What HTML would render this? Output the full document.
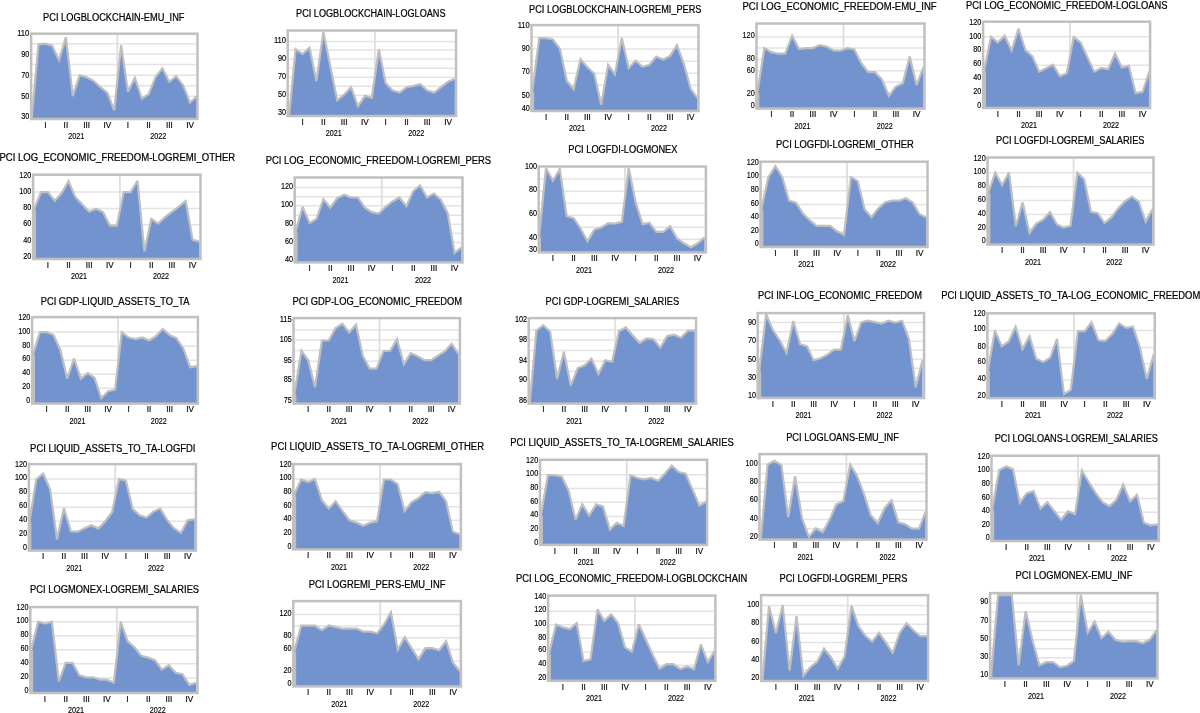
<!DOCTYPE html>
<html><head><meta charset="utf-8"><title>PCI charts</title>
<style>
html,body{margin:0;padding:0;background:#fff;}
svg{display:block;}
text{font-family:"Liberation Sans",Arial,sans-serif;fill:#000;}
.t{font-size:10px;stroke:#000;stroke-width:0.22px;}
.a{font-size:8.2px;stroke:#000;stroke-width:0.15px;}
</style></head><body>
<svg width="1200" height="713" viewBox="0 0 1200 713">
<rect width="1200" height="713" fill="#fff"/>
<g id="c1">
<clipPath id="cp1"><rect x="31.1" y="33.7" width="166.4" height="85.3"/></clipPath>
<line x1="31.1" x2="197.5" y1="43.7" y2="43.7" stroke="#e3e3e3" stroke-width="1.5"/>
<line x1="31.1" x2="197.5" y1="54.1" y2="54.1" stroke="#e3e3e3" stroke-width="1.5"/>
<line x1="31.1" x2="197.5" y1="64.6" y2="64.6" stroke="#e3e3e3" stroke-width="1.5"/>
<line x1="31.1" x2="197.5" y1="75.2" y2="75.2" stroke="#e3e3e3" stroke-width="1.5"/>
<line x1="31.1" x2="197.5" y1="85.8" y2="85.8" stroke="#e3e3e3" stroke-width="1.5"/>
<line x1="31.1" x2="197.5" y1="96.2" y2="96.2" stroke="#e3e3e3" stroke-width="1.5"/>
<line x1="31.1" x2="197.5" y1="106.7" y2="106.7" stroke="#e3e3e3" stroke-width="1.5"/>
<line x1="117.3" x2="117.3" y1="33.7" y2="119.0" stroke="#dedede" stroke-width="1.8"/>
<g clip-path="url(#cp1)"><polygon points="31.5,119.0 31.5,120.3 38.4,44.5 45.3,43.7 52.2,45.7 59.0,60.2 65.9,37.1 72.8,96.2 79.7,75.2 86.6,77.2 93.5,80.8 100.4,87.2 107.3,92.6 114.2,110.3 121.1,45.1 128.0,91.8 134.9,77.8 141.8,98.6 148.6,94.2 155.5,77.2 162.4,68.2 169.3,81.8 176.2,76.2 183.1,85.2 190.0,102.7 196.9,96.2 196.9,119.0" fill="#7393cf"/>
<polyline points="31.5,121.0 31.5,120.3 38.4,44.5 45.3,43.7 52.2,45.7 59.0,60.2 65.9,37.1 72.8,96.2 79.7,75.2 86.6,77.2 93.5,80.8 100.4,87.2 107.3,92.6 114.2,110.3 121.1,45.1 128.0,91.8 134.9,77.8 141.8,98.6 148.6,94.2 155.5,77.2 162.4,68.2 169.3,81.8 176.2,76.2 183.1,85.2 190.0,102.7 196.9,96.2" fill="none" stroke="#bfbfbf" stroke-width="2.2" stroke-linejoin="miter" stroke-miterlimit="3"/><line x1="32.4" x2="32.4" y1="121.3" y2="119.0" stroke="#bfbfbf" stroke-width="2"/></g>
<rect x="31.1" y="33.7" width="166.4" height="85.3" fill="none" stroke="#c0c0c0" stroke-width="2.5"/>
<text class="a" x="17.2" y="36.1" textLength="12.1" lengthAdjust="spacingAndGlyphs">110</text>
<text class="a" x="21.3" y="56.5" textLength="8.1" lengthAdjust="spacingAndGlyphs">90</text>
<text class="a" x="21.3" y="77.6" textLength="8.1" lengthAdjust="spacingAndGlyphs">70</text>
<text class="a" x="21.3" y="98.6" textLength="8.1" lengthAdjust="spacingAndGlyphs">50</text>
<text class="a" x="21.3" y="119.3" textLength="8.1" lengthAdjust="spacingAndGlyphs">30</text>
<text class="a" x="45.3" y="127.7" text-anchor="middle">I</text>
<text class="a" x="65.9" y="127.7" text-anchor="middle">II</text>
<text class="a" x="86.6" y="127.7" text-anchor="middle">III</text>
<text class="a" x="107.3" y="127.7" text-anchor="middle">IV</text>
<text class="a" x="128.0" y="127.7" text-anchor="middle">I</text>
<text class="a" x="148.6" y="127.7" text-anchor="middle">II</text>
<text class="a" x="169.3" y="127.7" text-anchor="middle">III</text>
<text class="a" x="190.0" y="127.7" text-anchor="middle">IV</text>
<text class="a" x="68.3" y="139.2" textLength="16" lengthAdjust="spacingAndGlyphs">2021</text>
<text class="a" x="150.3" y="139.2" textLength="16" lengthAdjust="spacingAndGlyphs">2022</text>
<text class="t" x="43.1" y="21.2" textLength="141.4" lengthAdjust="spacingAndGlyphs">PCI LOGBLOCKCHAIN-EMU_INF</text>
</g>
<g id="c2">
<clipPath id="cp2"><rect x="287.7" y="30.5" width="168.4" height="85.5"/></clipPath>
<line x1="287.7" x2="456.1" y1="41.5" y2="41.5" stroke="#e3e3e3" stroke-width="1.5"/>
<line x1="287.7" x2="456.1" y1="50.1" y2="50.1" stroke="#e3e3e3" stroke-width="1.5"/>
<line x1="287.7" x2="456.1" y1="59.1" y2="59.1" stroke="#e3e3e3" stroke-width="1.5"/>
<line x1="287.7" x2="456.1" y1="68.2" y2="68.2" stroke="#e3e3e3" stroke-width="1.5"/>
<line x1="287.7" x2="456.1" y1="77.2" y2="77.2" stroke="#e3e3e3" stroke-width="1.5"/>
<line x1="287.7" x2="456.1" y1="86.2" y2="86.2" stroke="#e3e3e3" stroke-width="1.5"/>
<line x1="287.7" x2="456.1" y1="95.2" y2="95.2" stroke="#e3e3e3" stroke-width="1.5"/>
<line x1="287.7" x2="456.1" y1="104.3" y2="104.3" stroke="#e3e3e3" stroke-width="1.5"/>
<line x1="374.9" x2="374.9" y1="30.5" y2="116.0" stroke="#dedede" stroke-width="1.8"/>
<g clip-path="url(#cp2)"><polygon points="288.7,116.0 288.7,120.3 295.6,49.1 302.6,54.1 309.5,47.7 316.4,81.2 323.4,32.1 330.3,66.2 337.2,100.3 344.1,94.6 351.1,87.2 358.0,106.3 364.9,95.8 371.8,97.8 378.8,49.1 385.7,83.2 392.6,90.6 399.5,92.6 406.5,87.2 413.4,85.8 420.3,84.2 427.2,90.6 434.2,92.6 441.1,87.2 448.0,81.8 454.9,78.8 454.9,116.0" fill="#7393cf"/>
<polyline points="288.7,118.0 288.7,120.3 295.6,49.1 302.6,54.1 309.5,47.7 316.4,81.2 323.4,32.1 330.3,66.2 337.2,100.3 344.1,94.6 351.1,87.2 358.0,106.3 364.9,95.8 371.8,97.8 378.8,49.1 385.7,83.2 392.6,90.6 399.5,92.6 406.5,87.2 413.4,85.8 420.3,84.2 427.2,90.6 434.2,92.6 441.1,87.2 448.0,81.8 454.9,78.8" fill="none" stroke="#bfbfbf" stroke-width="2.2" stroke-linejoin="miter" stroke-miterlimit="3"/><line x1="289.6" x2="289.6" y1="121.3" y2="116.0" stroke="#bfbfbf" stroke-width="2"/></g>
<rect x="287.7" y="30.5" width="168.4" height="85.5" fill="none" stroke="#c0c0c0" stroke-width="2.5"/>
<text class="a" x="273.9" y="42.5" textLength="12.1" lengthAdjust="spacingAndGlyphs">110</text>
<text class="a" x="277.9" y="60.5" textLength="8.1" lengthAdjust="spacingAndGlyphs">90</text>
<text class="a" x="277.9" y="79.0" textLength="8.1" lengthAdjust="spacingAndGlyphs">70</text>
<text class="a" x="277.9" y="97.0" textLength="8.1" lengthAdjust="spacingAndGlyphs">50</text>
<text class="a" x="277.9" y="115.1" textLength="8.1" lengthAdjust="spacingAndGlyphs">30</text>
<text class="a" x="302.6" y="124.7" text-anchor="middle">I</text>
<text class="a" x="323.4" y="124.7" text-anchor="middle">II</text>
<text class="a" x="344.1" y="124.7" text-anchor="middle">III</text>
<text class="a" x="364.9" y="124.7" text-anchor="middle">IV</text>
<text class="a" x="385.7" y="124.7" text-anchor="middle">I</text>
<text class="a" x="406.5" y="124.7" text-anchor="middle">II</text>
<text class="a" x="427.2" y="124.7" text-anchor="middle">III</text>
<text class="a" x="448.0" y="124.7" text-anchor="middle">IV</text>
<text class="a" x="325.7" y="136.2" textLength="16" lengthAdjust="spacingAndGlyphs">2021</text>
<text class="a" x="408.2" y="136.2" textLength="16" lengthAdjust="spacingAndGlyphs">2022</text>
<text class="t" x="296.1" y="16.6" textLength="149.4" lengthAdjust="spacingAndGlyphs">PCI LOGBLOCKCHAIN-LOGLOANS</text>
</g>
<g id="c3">
<clipPath id="cp3"><rect x="531.5" y="25.1" width="167.0" height="85.9"/></clipPath>
<line x1="531.5" x2="698.5" y1="37.1" y2="37.1" stroke="#e3e3e3" stroke-width="1.5"/>
<line x1="531.5" x2="698.5" y1="49.1" y2="49.1" stroke="#e3e3e3" stroke-width="1.5"/>
<line x1="531.5" x2="698.5" y1="61.2" y2="61.2" stroke="#e3e3e3" stroke-width="1.5"/>
<line x1="531.5" x2="698.5" y1="73.2" y2="73.2" stroke="#e3e3e3" stroke-width="1.5"/>
<line x1="531.5" x2="698.5" y1="85.2" y2="85.2" stroke="#e3e3e3" stroke-width="1.5"/>
<line x1="531.5" x2="698.5" y1="97.2" y2="97.2" stroke="#e3e3e3" stroke-width="1.5"/>
<line x1="618.0" x2="618.0" y1="25.1" y2="111.0" stroke="#dedede" stroke-width="1.8"/>
<g clip-path="url(#cp3)"><polygon points="532.3,111.0 532.3,91.2 539.2,38.1 546.1,38.1 553.0,39.5 559.9,48.7 566.8,80.8 573.6,89.2 580.5,59.1 587.4,67.2 594.3,73.8 601.2,104.9 608.1,64.8 614.9,74.2 621.8,38.1 628.7,68.2 635.6,60.6 642.5,66.8 649.4,64.8 656.2,56.5 663.1,59.5 670.0,56.1 676.9,45.1 683.8,63.8 690.7,88.8 697.5,98.2 697.5,111.0" fill="#7393cf"/>
<polyline points="532.3,113.0 532.3,91.2 539.2,38.1 546.1,38.1 553.0,39.5 559.9,48.7 566.8,80.8 573.6,89.2 580.5,59.1 587.4,67.2 594.3,73.8 601.2,104.9 608.1,64.8 614.9,74.2 621.8,38.1 628.7,68.2 635.6,60.6 642.5,66.8 649.4,64.8 656.2,56.5 663.1,59.5 670.0,56.1 676.9,45.1 683.8,63.8 690.7,88.8 697.5,98.2" fill="none" stroke="#bfbfbf" stroke-width="2.2" stroke-linejoin="miter" stroke-miterlimit="3"/><line x1="533.2" x2="533.2" y1="92.2" y2="111.0" stroke="#bfbfbf" stroke-width="2"/></g>
<rect x="531.5" y="25.1" width="167.0" height="85.9" fill="none" stroke="#c0c0c0" stroke-width="2.5"/>
<text class="a" x="517.7" y="27.5" textLength="12.1" lengthAdjust="spacingAndGlyphs">110</text>
<text class="a" x="521.7" y="50.5" textLength="8.1" lengthAdjust="spacingAndGlyphs">90</text>
<text class="a" x="521.7" y="74.2" textLength="8.1" lengthAdjust="spacingAndGlyphs">70</text>
<text class="a" x="521.7" y="98.2" textLength="8.1" lengthAdjust="spacingAndGlyphs">50</text>
<text class="a" x="521.7" y="110.7" textLength="8.1" lengthAdjust="spacingAndGlyphs">40</text>
<text class="a" x="546.1" y="119.7" text-anchor="middle">I</text>
<text class="a" x="566.8" y="119.7" text-anchor="middle">II</text>
<text class="a" x="587.4" y="119.7" text-anchor="middle">III</text>
<text class="a" x="608.1" y="119.7" text-anchor="middle">IV</text>
<text class="a" x="628.7" y="119.7" text-anchor="middle">I</text>
<text class="a" x="649.4" y="119.7" text-anchor="middle">II</text>
<text class="a" x="670.0" y="119.7" text-anchor="middle">III</text>
<text class="a" x="690.7" y="119.7" text-anchor="middle">IV</text>
<text class="a" x="569.1" y="131.2" textLength="16" lengthAdjust="spacingAndGlyphs">2021</text>
<text class="a" x="651.0" y="131.2" textLength="16" lengthAdjust="spacingAndGlyphs">2022</text>
<text class="t" x="529.1" y="12.6" textLength="172.4" lengthAdjust="spacingAndGlyphs">PCI LOGBLOCKCHAIN-LOGREMI_PERS</text>
</g>
<g id="c4">
<clipPath id="cp4"><rect x="756.5" y="23.5" width="168.0" height="85.1"/></clipPath>
<line x1="756.5" x2="924.5" y1="37.1" y2="37.1" stroke="#e3e3e3" stroke-width="1.5"/>
<line x1="756.5" x2="924.5" y1="48.1" y2="48.1" stroke="#e3e3e3" stroke-width="1.5"/>
<line x1="756.5" x2="924.5" y1="59.5" y2="59.5" stroke="#e3e3e3" stroke-width="1.5"/>
<line x1="756.5" x2="924.5" y1="70.8" y2="70.8" stroke="#e3e3e3" stroke-width="1.5"/>
<line x1="756.5" x2="924.5" y1="82.2" y2="82.2" stroke="#e3e3e3" stroke-width="1.5"/>
<line x1="756.5" x2="924.5" y1="93.2" y2="93.2" stroke="#e3e3e3" stroke-width="1.5"/>
<line x1="843.6" x2="843.6" y1="23.5" y2="108.6" stroke="#dedede" stroke-width="1.8"/>
<g clip-path="url(#cp4)"><polygon points="757.5,108.6 757.5,92.2 764.4,48.1 771.3,52.1 778.2,53.7 785.2,53.7 792.1,35.7 799.0,49.1 805.9,48.1 812.8,48.1 819.7,45.1 826.7,46.5 833.6,50.5 840.5,50.7 847.4,48.1 854.3,49.5 861.3,63.2 868.2,72.2 875.1,72.2 882.0,79.6 888.9,95.8 895.8,86.6 902.8,83.2 909.7,56.5 916.6,85.2 923.5,67.2 923.5,108.6" fill="#7393cf"/>
<polyline points="757.5,110.6 757.5,92.2 764.4,48.1 771.3,52.1 778.2,53.7 785.2,53.7 792.1,35.7 799.0,49.1 805.9,48.1 812.8,48.1 819.7,45.1 826.7,46.5 833.6,50.5 840.5,50.7 847.4,48.1 854.3,49.5 861.3,63.2 868.2,72.2 875.1,72.2 882.0,79.6 888.9,95.8 895.8,86.6 902.8,83.2 909.7,56.5 916.6,85.2 923.5,67.2" fill="none" stroke="#bfbfbf" stroke-width="2.2" stroke-linejoin="miter" stroke-miterlimit="3"/><line x1="758.4" x2="758.4" y1="93.2" y2="108.6" stroke="#bfbfbf" stroke-width="2"/></g>
<rect x="756.5" y="23.5" width="168.0" height="85.1" fill="none" stroke="#c0c0c0" stroke-width="2.5"/>
<text class="a" x="742.6" y="38.1" textLength="12.1" lengthAdjust="spacingAndGlyphs">120</text>
<text class="a" x="746.7" y="60.5" textLength="8.1" lengthAdjust="spacingAndGlyphs">80</text>
<text class="a" x="746.7" y="73.0" textLength="8.1" lengthAdjust="spacingAndGlyphs">60</text>
<text class="a" x="746.7" y="95.6" textLength="8.1" lengthAdjust="spacingAndGlyphs">20</text>
<text class="a" x="750.7" y="108.3" textLength="4.0" lengthAdjust="spacingAndGlyphs">0</text>
<text class="a" x="771.3" y="117.3" text-anchor="middle">I</text>
<text class="a" x="792.1" y="117.3" text-anchor="middle">II</text>
<text class="a" x="812.8" y="117.3" text-anchor="middle">III</text>
<text class="a" x="833.6" y="117.3" text-anchor="middle">IV</text>
<text class="a" x="854.3" y="117.3" text-anchor="middle">I</text>
<text class="a" x="875.1" y="117.3" text-anchor="middle">II</text>
<text class="a" x="895.8" y="117.3" text-anchor="middle">III</text>
<text class="a" x="916.6" y="117.3" text-anchor="middle">IV</text>
<text class="a" x="794.5" y="128.8" textLength="16" lengthAdjust="spacingAndGlyphs">2021</text>
<text class="a" x="876.8" y="128.8" textLength="16" lengthAdjust="spacingAndGlyphs">2022</text>
<text class="t" x="742.5" y="10.0" textLength="194.1" lengthAdjust="spacingAndGlyphs">PCI LOG_ECONOMIC_FREEDOM-EMU_INF</text>
</g>
<g id="c5">
<clipPath id="cp5"><rect x="983.1" y="21.7" width="167.0" height="86.3"/></clipPath>
<line x1="983.1" x2="1150.1" y1="36.7" y2="36.7" stroke="#e3e3e3" stroke-width="1.5"/>
<line x1="983.1" x2="1150.1" y1="51.1" y2="51.1" stroke="#e3e3e3" stroke-width="1.5"/>
<line x1="983.1" x2="1150.1" y1="65.2" y2="65.2" stroke="#e3e3e3" stroke-width="1.5"/>
<line x1="983.1" x2="1150.1" y1="79.2" y2="79.2" stroke="#e3e3e3" stroke-width="1.5"/>
<line x1="983.1" x2="1150.1" y1="93.2" y2="93.2" stroke="#e3e3e3" stroke-width="1.5"/>
<line x1="1069.9" x2="1069.9" y1="21.7" y2="108.0" stroke="#dedede" stroke-width="1.8"/>
<g clip-path="url(#cp5)"><polygon points="984.1,108.0 984.1,70.2 991.0,36.7 997.8,42.5 1004.7,35.7 1011.6,50.5 1018.5,28.7 1025.4,50.1 1032.3,56.1 1039.2,71.8 1046.1,68.2 1053.0,64.6 1059.9,76.2 1066.8,73.2 1073.7,37.1 1080.6,42.5 1087.4,57.1 1094.3,71.8 1101.2,67.8 1108.1,69.2 1115.0,53.7 1121.9,67.6 1128.8,65.8 1135.7,93.2 1142.6,91.8 1149.5,71.2 1149.5,108.0" fill="#7393cf"/>
<polyline points="984.1,110.0 984.1,70.2 991.0,36.7 997.8,42.5 1004.7,35.7 1011.6,50.5 1018.5,28.7 1025.4,50.1 1032.3,56.1 1039.2,71.8 1046.1,68.2 1053.0,64.6 1059.9,76.2 1066.8,73.2 1073.7,37.1 1080.6,42.5 1087.4,57.1 1094.3,71.8 1101.2,67.8 1108.1,69.2 1115.0,53.7 1121.9,67.6 1128.8,65.8 1135.7,93.2 1142.6,91.8 1149.5,71.2" fill="none" stroke="#bfbfbf" stroke-width="2.2" stroke-linejoin="miter" stroke-miterlimit="3"/><line x1="985.0" x2="985.0" y1="71.2" y2="108.0" stroke="#bfbfbf" stroke-width="2"/></g>
<rect x="983.1" y="21.7" width="167.0" height="86.3" fill="none" stroke="#c0c0c0" stroke-width="2.5"/>
<text class="a" x="969.2" y="24.5" textLength="12.1" lengthAdjust="spacingAndGlyphs">120</text>
<text class="a" x="969.2" y="38.5" textLength="12.1" lengthAdjust="spacingAndGlyphs">100</text>
<text class="a" x="973.3" y="52.1" textLength="8.1" lengthAdjust="spacingAndGlyphs">80</text>
<text class="a" x="973.3" y="66.2" textLength="8.1" lengthAdjust="spacingAndGlyphs">60</text>
<text class="a" x="973.3" y="80.2" textLength="8.1" lengthAdjust="spacingAndGlyphs">40</text>
<text class="a" x="973.3" y="94.2" textLength="8.1" lengthAdjust="spacingAndGlyphs">20</text>
<text class="a" x="977.3" y="107.7" textLength="4.0" lengthAdjust="spacingAndGlyphs">0</text>
<text class="a" x="997.8" y="116.7" text-anchor="middle">I</text>
<text class="a" x="1018.5" y="116.7" text-anchor="middle">II</text>
<text class="a" x="1039.2" y="116.7" text-anchor="middle">III</text>
<text class="a" x="1059.9" y="116.7" text-anchor="middle">IV</text>
<text class="a" x="1080.6" y="116.7" text-anchor="middle">I</text>
<text class="a" x="1101.2" y="116.7" text-anchor="middle">II</text>
<text class="a" x="1121.9" y="116.7" text-anchor="middle">III</text>
<text class="a" x="1142.6" y="116.7" text-anchor="middle">IV</text>
<text class="a" x="1020.9" y="128.2" textLength="16" lengthAdjust="spacingAndGlyphs">2021</text>
<text class="a" x="1102.9" y="128.2" textLength="16" lengthAdjust="spacingAndGlyphs">2022</text>
<text class="t" x="966.0" y="8.6" textLength="201.5" lengthAdjust="spacingAndGlyphs">PCI LOG_ECONOMIC_FREEDOM-LOGLOANS</text>
</g>
<g id="c6">
<clipPath id="cp6"><rect x="33.1" y="174.7" width="167.4" height="84.3"/></clipPath>
<line x1="33.1" x2="200.5" y1="192.1" y2="192.1" stroke="#e3e3e3" stroke-width="1.5"/>
<line x1="33.1" x2="200.5" y1="208.6" y2="208.6" stroke="#e3e3e3" stroke-width="1.5"/>
<line x1="33.1" x2="200.5" y1="224.8" y2="224.8" stroke="#e3e3e3" stroke-width="1.5"/>
<line x1="33.1" x2="200.5" y1="241.2" y2="241.2" stroke="#e3e3e3" stroke-width="1.5"/>
<line x1="119.9" x2="119.9" y1="174.7" y2="259.0" stroke="#dedede" stroke-width="1.8"/>
<g clip-path="url(#cp6)"><polygon points="34.1,259.0 34.1,209.2 41.0,192.1 47.9,192.1 54.8,200.7 61.7,193.1 68.5,181.1 75.4,197.1 82.3,204.6 89.2,211.8 96.1,208.8 103.0,212.2 109.9,225.6 116.8,225.6 123.7,192.1 130.6,192.1 137.5,180.7 144.4,251.3 151.3,218.8 158.1,223.6 165.0,217.2 171.9,211.8 178.8,206.6 185.7,201.1 192.6,239.8 199.5,241.6 199.5,259.0" fill="#7393cf"/>
<polyline points="34.1,261.0 34.1,209.2 41.0,192.1 47.9,192.1 54.8,200.7 61.7,193.1 68.5,181.1 75.4,197.1 82.3,204.6 89.2,211.8 96.1,208.8 103.0,212.2 109.9,225.6 116.8,225.6 123.7,192.1 130.6,192.1 137.5,180.7 144.4,251.3 151.3,218.8 158.1,223.6 165.0,217.2 171.9,211.8 178.8,206.6 185.7,201.1 192.6,239.8 199.5,241.6" fill="none" stroke="#bfbfbf" stroke-width="2.2" stroke-linejoin="miter" stroke-miterlimit="3"/><line x1="35.0" x2="35.0" y1="210.2" y2="259.0" stroke="#bfbfbf" stroke-width="2"/></g>
<rect x="33.1" y="174.7" width="167.4" height="84.3" fill="none" stroke="#c0c0c0" stroke-width="2.5"/>
<text class="a" x="19.2" y="177.5" textLength="12.1" lengthAdjust="spacingAndGlyphs">120</text>
<text class="a" x="19.2" y="193.5" textLength="12.1" lengthAdjust="spacingAndGlyphs">100</text>
<text class="a" x="23.3" y="210.0" textLength="8.1" lengthAdjust="spacingAndGlyphs">80</text>
<text class="a" x="23.3" y="225.6" textLength="8.1" lengthAdjust="spacingAndGlyphs">60</text>
<text class="a" x="23.3" y="242.6" textLength="8.1" lengthAdjust="spacingAndGlyphs">40</text>
<text class="a" x="23.3" y="259.1" textLength="8.1" lengthAdjust="spacingAndGlyphs">20</text>
<text class="a" x="47.9" y="267.7" text-anchor="middle">I</text>
<text class="a" x="68.5" y="267.7" text-anchor="middle">II</text>
<text class="a" x="89.2" y="267.7" text-anchor="middle">III</text>
<text class="a" x="109.9" y="267.7" text-anchor="middle">IV</text>
<text class="a" x="130.6" y="267.7" text-anchor="middle">I</text>
<text class="a" x="151.3" y="267.7" text-anchor="middle">II</text>
<text class="a" x="171.9" y="267.7" text-anchor="middle">III</text>
<text class="a" x="192.6" y="267.7" text-anchor="middle">IV</text>
<text class="a" x="70.9" y="279.2" textLength="16" lengthAdjust="spacingAndGlyphs">2021</text>
<text class="a" x="152.9" y="279.2" textLength="16" lengthAdjust="spacingAndGlyphs">2022</text>
<text class="t" x="-0.6" y="161.0" textLength="235.8" lengthAdjust="spacingAndGlyphs">PCI LOG_ECONOMIC_FREEDOM-LOGREMI_OTHER</text>
</g>
<g id="c7">
<clipPath id="cp7"><rect x="294.7" y="177.5" width="167.8" height="84.9"/></clipPath>
<line x1="294.7" x2="462.6" y1="187.5" y2="187.5" stroke="#e3e3e3" stroke-width="1.5"/>
<line x1="294.7" x2="462.6" y1="196.7" y2="196.7" stroke="#e3e3e3" stroke-width="1.5"/>
<line x1="294.7" x2="462.6" y1="205.8" y2="205.8" stroke="#e3e3e3" stroke-width="1.5"/>
<line x1="294.7" x2="462.6" y1="215.2" y2="215.2" stroke="#e3e3e3" stroke-width="1.5"/>
<line x1="294.7" x2="462.6" y1="224.2" y2="224.2" stroke="#e3e3e3" stroke-width="1.5"/>
<line x1="294.7" x2="462.6" y1="233.2" y2="233.2" stroke="#e3e3e3" stroke-width="1.5"/>
<line x1="294.7" x2="462.6" y1="242.6" y2="242.6" stroke="#e3e3e3" stroke-width="1.5"/>
<line x1="294.7" x2="462.6" y1="251.7" y2="251.7" stroke="#e3e3e3" stroke-width="1.5"/>
<line x1="381.8" x2="381.8" y1="177.5" y2="262.4" stroke="#dedede" stroke-width="1.8"/>
<g clip-path="url(#cp7)"><polygon points="295.7,262.4 295.7,231.2 302.6,206.8 309.6,223.2 316.5,218.8 323.4,199.1 330.3,207.6 337.2,198.1 344.1,194.7 351.0,197.5 357.9,197.5 364.8,207.6 371.7,212.2 378.6,213.6 385.6,206.8 392.5,201.5 399.4,197.5 406.3,206.2 413.2,191.1 420.1,185.5 427.0,197.5 433.9,193.5 440.8,199.7 447.7,213.2 454.6,252.9 461.6,247.3 461.6,262.4" fill="#7393cf"/>
<polyline points="295.7,264.4 295.7,231.2 302.6,206.8 309.6,223.2 316.5,218.8 323.4,199.1 330.3,207.6 337.2,198.1 344.1,194.7 351.0,197.5 357.9,197.5 364.8,207.6 371.7,212.2 378.6,213.6 385.6,206.8 392.5,201.5 399.4,197.5 406.3,206.2 413.2,191.1 420.1,185.5 427.0,197.5 433.9,193.5 440.8,199.7 447.7,213.2 454.6,252.9 461.6,247.3" fill="none" stroke="#bfbfbf" stroke-width="2.2" stroke-linejoin="miter" stroke-miterlimit="3"/><line x1="296.6" x2="296.6" y1="232.2" y2="262.4" stroke="#bfbfbf" stroke-width="2"/></g>
<rect x="294.7" y="177.5" width="167.8" height="84.9" fill="none" stroke="#c0c0c0" stroke-width="2.5"/>
<text class="a" x="280.9" y="188.9" textLength="12.1" lengthAdjust="spacingAndGlyphs">120</text>
<text class="a" x="280.9" y="207.2" textLength="12.1" lengthAdjust="spacingAndGlyphs">100</text>
<text class="a" x="284.9" y="225.6" textLength="8.1" lengthAdjust="spacingAndGlyphs">80</text>
<text class="a" x="284.9" y="244.0" textLength="8.1" lengthAdjust="spacingAndGlyphs">60</text>
<text class="a" x="284.9" y="262.1" textLength="8.1" lengthAdjust="spacingAndGlyphs">40</text>
<text class="a" x="309.6" y="271.1" text-anchor="middle">I</text>
<text class="a" x="330.3" y="271.1" text-anchor="middle">II</text>
<text class="a" x="351.0" y="271.1" text-anchor="middle">III</text>
<text class="a" x="371.7" y="271.1" text-anchor="middle">IV</text>
<text class="a" x="392.5" y="271.1" text-anchor="middle">I</text>
<text class="a" x="413.2" y="271.1" text-anchor="middle">II</text>
<text class="a" x="433.9" y="271.1" text-anchor="middle">III</text>
<text class="a" x="454.6" y="271.1" text-anchor="middle">IV</text>
<text class="a" x="332.6" y="282.6" textLength="16" lengthAdjust="spacingAndGlyphs">2021</text>
<text class="a" x="414.9" y="282.6" textLength="16" lengthAdjust="spacingAndGlyphs">2022</text>
<text class="t" x="265.7" y="163.6" textLength="225.4" lengthAdjust="spacingAndGlyphs">PCI LOG_ECONOMIC_FREEDOM-LOGREMI_PERS</text>
</g>
<g id="c8">
<clipPath id="cp8"><rect x="538.7" y="166.5" width="167.2" height="85.9"/></clipPath>
<line x1="538.7" x2="706.0" y1="179.1" y2="179.1" stroke="#e3e3e3" stroke-width="1.5"/>
<line x1="538.7" x2="706.0" y1="191.2" y2="191.2" stroke="#e3e3e3" stroke-width="1.5"/>
<line x1="538.7" x2="706.0" y1="203.2" y2="203.2" stroke="#e3e3e3" stroke-width="1.5"/>
<line x1="538.7" x2="706.0" y1="215.2" y2="215.2" stroke="#e3e3e3" stroke-width="1.5"/>
<line x1="538.7" x2="706.0" y1="227.2" y2="227.2" stroke="#e3e3e3" stroke-width="1.5"/>
<line x1="538.7" x2="706.0" y1="239.3" y2="239.3" stroke="#e3e3e3" stroke-width="1.5"/>
<line x1="625.0" x2="625.0" y1="166.5" y2="252.4" stroke="#dedede" stroke-width="1.8"/>
<g clip-path="url(#cp8)"><polygon points="539.1,252.4 539.1,236.3 546.0,168.1 552.9,180.5 559.8,169.1 566.7,216.2 573.6,218.2 580.5,228.2 587.4,241.3 594.3,229.6 601.2,227.6 608.1,223.2 615.0,223.6 621.9,221.8 628.7,168.1 635.6,202.2 642.5,224.2 649.4,222.8 656.3,231.9 663.2,231.9 670.1,226.2 677.0,238.3 683.9,243.3 690.8,247.3 697.7,243.3 704.6,237.3 704.6,252.4" fill="#7393cf"/>
<polyline points="539.1,254.4 539.1,236.3 546.0,168.1 552.9,180.5 559.8,169.1 566.7,216.2 573.6,218.2 580.5,228.2 587.4,241.3 594.3,229.6 601.2,227.6 608.1,223.2 615.0,223.6 621.9,221.8 628.7,168.1 635.6,202.2 642.5,224.2 649.4,222.8 656.3,231.9 663.2,231.9 670.1,226.2 677.0,238.3 683.9,243.3 690.8,247.3 697.7,243.3 704.6,237.3" fill="none" stroke="#bfbfbf" stroke-width="2.2" stroke-linejoin="miter" stroke-miterlimit="3"/><line x1="540.0" x2="540.0" y1="237.3" y2="252.4" stroke="#bfbfbf" stroke-width="2"/></g>
<rect x="538.7" y="166.5" width="167.2" height="85.9" fill="none" stroke="#c0c0c0" stroke-width="2.5"/>
<text class="a" x="524.9" y="168.9" textLength="12.1" lengthAdjust="spacingAndGlyphs">100</text>
<text class="a" x="528.9" y="191.9" textLength="8.1" lengthAdjust="spacingAndGlyphs">80</text>
<text class="a" x="528.9" y="216.2" textLength="8.1" lengthAdjust="spacingAndGlyphs">60</text>
<text class="a" x="528.9" y="239.7" textLength="8.1" lengthAdjust="spacingAndGlyphs">40</text>
<text class="a" x="528.9" y="252.1" textLength="8.1" lengthAdjust="spacingAndGlyphs">30</text>
<text class="a" x="552.9" y="261.1" text-anchor="middle">I</text>
<text class="a" x="573.6" y="261.1" text-anchor="middle">II</text>
<text class="a" x="594.3" y="261.1" text-anchor="middle">III</text>
<text class="a" x="615.0" y="261.1" text-anchor="middle">IV</text>
<text class="a" x="635.6" y="261.1" text-anchor="middle">I</text>
<text class="a" x="656.3" y="261.1" text-anchor="middle">II</text>
<text class="a" x="677.0" y="261.1" text-anchor="middle">III</text>
<text class="a" x="697.7" y="261.1" text-anchor="middle">IV</text>
<text class="a" x="575.9" y="272.6" textLength="16" lengthAdjust="spacingAndGlyphs">2021</text>
<text class="a" x="658.0" y="272.6" textLength="16" lengthAdjust="spacingAndGlyphs">2022</text>
<text class="t" x="568.2" y="152.6" textLength="109.3" lengthAdjust="spacingAndGlyphs">PCI LOGFDI-LOGMONEX</text>
</g>
<g id="c9">
<clipPath id="cp9"><rect x="760.5" y="161.7" width="167.0" height="85.3"/></clipPath>
<line x1="760.5" x2="927.5" y1="177.1" y2="177.1" stroke="#e3e3e3" stroke-width="1.5"/>
<line x1="760.5" x2="927.5" y1="190.8" y2="190.8" stroke="#e3e3e3" stroke-width="1.5"/>
<line x1="760.5" x2="927.5" y1="204.6" y2="204.6" stroke="#e3e3e3" stroke-width="1.5"/>
<line x1="760.5" x2="927.5" y1="218.2" y2="218.2" stroke="#e3e3e3" stroke-width="1.5"/>
<line x1="760.5" x2="927.5" y1="231.9" y2="231.9" stroke="#e3e3e3" stroke-width="1.5"/>
<line x1="847.1" x2="847.1" y1="161.7" y2="247.0" stroke="#dedede" stroke-width="1.8"/>
<g clip-path="url(#cp9)"><polygon points="761.5,247.0 761.5,208.2 768.4,177.1 775.3,166.1 782.1,176.7 789.0,200.6 795.9,202.6 802.8,213.2 809.6,220.2 816.5,225.8 823.4,225.8 830.3,225.8 837.1,231.3 844.0,234.9 850.9,177.1 857.8,181.1 864.6,209.2 871.5,217.2 878.4,208.2 885.3,202.2 892.1,200.6 899.0,200.6 905.9,198.2 912.8,202.6 919.6,214.2 926.5,217.6 926.5,247.0" fill="#7393cf"/>
<polyline points="761.5,249.0 761.5,208.2 768.4,177.1 775.3,166.1 782.1,176.7 789.0,200.6 795.9,202.6 802.8,213.2 809.6,220.2 816.5,225.8 823.4,225.8 830.3,225.8 837.1,231.3 844.0,234.9 850.9,177.1 857.8,181.1 864.6,209.2 871.5,217.2 878.4,208.2 885.3,202.2 892.1,200.6 899.0,200.6 905.9,198.2 912.8,202.6 919.6,214.2 926.5,217.6" fill="none" stroke="#bfbfbf" stroke-width="2.2" stroke-linejoin="miter" stroke-miterlimit="3"/><line x1="762.4" x2="762.4" y1="209.2" y2="247.0" stroke="#bfbfbf" stroke-width="2"/></g>
<rect x="760.5" y="161.7" width="167.0" height="85.3" fill="none" stroke="#c0c0c0" stroke-width="2.5"/>
<text class="a" x="746.7" y="164.5" textLength="12.1" lengthAdjust="spacingAndGlyphs">120</text>
<text class="a" x="746.7" y="178.1" textLength="12.1" lengthAdjust="spacingAndGlyphs">100</text>
<text class="a" x="750.7" y="191.9" textLength="8.1" lengthAdjust="spacingAndGlyphs">80</text>
<text class="a" x="750.7" y="205.6" textLength="8.1" lengthAdjust="spacingAndGlyphs">60</text>
<text class="a" x="750.7" y="219.0" textLength="8.1" lengthAdjust="spacingAndGlyphs">40</text>
<text class="a" x="750.7" y="232.7" textLength="8.1" lengthAdjust="spacingAndGlyphs">20</text>
<text class="a" x="754.8" y="246.3" textLength="4.0" lengthAdjust="spacingAndGlyphs">0</text>
<text class="a" x="775.3" y="255.7" text-anchor="middle">I</text>
<text class="a" x="795.9" y="255.7" text-anchor="middle">II</text>
<text class="a" x="816.5" y="255.7" text-anchor="middle">III</text>
<text class="a" x="837.1" y="255.7" text-anchor="middle">IV</text>
<text class="a" x="857.8" y="255.7" text-anchor="middle">I</text>
<text class="a" x="878.4" y="255.7" text-anchor="middle">II</text>
<text class="a" x="899.0" y="255.7" text-anchor="middle">III</text>
<text class="a" x="919.6" y="255.7" text-anchor="middle">IV</text>
<text class="a" x="798.2" y="267.2" textLength="16" lengthAdjust="spacingAndGlyphs">2021</text>
<text class="a" x="880.0" y="267.2" textLength="16" lengthAdjust="spacingAndGlyphs">2022</text>
<text class="t" x="776.1" y="148.0" textLength="137.7" lengthAdjust="spacingAndGlyphs">PCI LOGFDI-LOGREMI_OTHER</text>
</g>
<g id="c10">
<clipPath id="cp10"><rect x="987.5" y="157.5" width="166.0" height="87.1"/></clipPath>
<line x1="987.5" x2="1153.5" y1="172.7" y2="172.7" stroke="#e3e3e3" stroke-width="1.5"/>
<line x1="987.5" x2="1153.5" y1="186.7" y2="186.7" stroke="#e3e3e3" stroke-width="1.5"/>
<line x1="987.5" x2="1153.5" y1="200.6" y2="200.6" stroke="#e3e3e3" stroke-width="1.5"/>
<line x1="987.5" x2="1153.5" y1="214.6" y2="214.6" stroke="#e3e3e3" stroke-width="1.5"/>
<line x1="987.5" x2="1153.5" y1="228.6" y2="228.6" stroke="#e3e3e3" stroke-width="1.5"/>
<line x1="1073.6" x2="1073.6" y1="157.5" y2="244.6" stroke="#dedede" stroke-width="1.8"/>
<g clip-path="url(#cp10)"><polygon points="988.5,244.6 988.5,192.2 995.3,172.5 1002.1,185.1 1009.0,172.5 1015.8,226.2 1022.6,202.2 1029.5,232.9 1036.3,223.6 1043.1,219.6 1050.0,212.2 1056.8,224.2 1063.6,227.6 1070.5,225.8 1077.3,172.5 1084.1,179.1 1091.0,211.8 1097.8,213.2 1104.6,223.2 1111.5,217.2 1118.3,208.2 1125.1,201.2 1132.0,196.6 1138.8,201.6 1145.6,221.6 1152.5,209.2 1152.5,244.6" fill="#7393cf"/>
<polyline points="988.5,246.6 988.5,192.2 995.3,172.5 1002.1,185.1 1009.0,172.5 1015.8,226.2 1022.6,202.2 1029.5,232.9 1036.3,223.6 1043.1,219.6 1050.0,212.2 1056.8,224.2 1063.6,227.6 1070.5,225.8 1077.3,172.5 1084.1,179.1 1091.0,211.8 1097.8,213.2 1104.6,223.2 1111.5,217.2 1118.3,208.2 1125.1,201.2 1132.0,196.6 1138.8,201.6 1145.6,221.6 1152.5,209.2" fill="none" stroke="#bfbfbf" stroke-width="2.2" stroke-linejoin="miter" stroke-miterlimit="3"/><line x1="989.4" x2="989.4" y1="193.2" y2="244.6" stroke="#bfbfbf" stroke-width="2"/></g>
<rect x="987.5" y="157.5" width="166.0" height="87.1" fill="none" stroke="#c0c0c0" stroke-width="2.5"/>
<text class="a" x="973.6" y="160.5" textLength="12.1" lengthAdjust="spacingAndGlyphs">120</text>
<text class="a" x="973.6" y="173.9" textLength="12.1" lengthAdjust="spacingAndGlyphs">100</text>
<text class="a" x="977.7" y="187.5" textLength="8.1" lengthAdjust="spacingAndGlyphs">80</text>
<text class="a" x="977.7" y="201.6" textLength="8.1" lengthAdjust="spacingAndGlyphs">60</text>
<text class="a" x="977.7" y="215.6" textLength="8.1" lengthAdjust="spacingAndGlyphs">40</text>
<text class="a" x="977.7" y="229.6" textLength="8.1" lengthAdjust="spacingAndGlyphs">20</text>
<text class="a" x="981.7" y="243.3" textLength="4.0" lengthAdjust="spacingAndGlyphs">0</text>
<text class="a" x="1002.1" y="253.3" text-anchor="middle">I</text>
<text class="a" x="1022.6" y="253.3" text-anchor="middle">II</text>
<text class="a" x="1043.1" y="253.3" text-anchor="middle">III</text>
<text class="a" x="1063.6" y="253.3" text-anchor="middle">IV</text>
<text class="a" x="1084.1" y="253.3" text-anchor="middle">I</text>
<text class="a" x="1104.6" y="253.3" text-anchor="middle">II</text>
<text class="a" x="1125.1" y="253.3" text-anchor="middle">III</text>
<text class="a" x="1145.6" y="253.3" text-anchor="middle">IV</text>
<text class="a" x="1024.9" y="264.8" textLength="16" lengthAdjust="spacingAndGlyphs">2021</text>
<text class="a" x="1106.2" y="264.8" textLength="16" lengthAdjust="spacingAndGlyphs">2022</text>
<text class="t" x="996.1" y="143.6" textLength="148.4" lengthAdjust="spacingAndGlyphs">PCI LOGFDI-LOGREMI_SALARIES</text>
</g>
<g id="c11">
<clipPath id="cp11"><rect x="32.1" y="317.1" width="165.8" height="86.5"/></clipPath>
<line x1="32.1" x2="197.9" y1="332.1" y2="332.1" stroke="#e3e3e3" stroke-width="1.5"/>
<line x1="32.1" x2="197.9" y1="346.2" y2="346.2" stroke="#e3e3e3" stroke-width="1.5"/>
<line x1="32.1" x2="197.9" y1="360.2" y2="360.2" stroke="#e3e3e3" stroke-width="1.5"/>
<line x1="32.1" x2="197.9" y1="374.2" y2="374.2" stroke="#e3e3e3" stroke-width="1.5"/>
<line x1="32.1" x2="197.9" y1="388.3" y2="388.3" stroke="#e3e3e3" stroke-width="1.5"/>
<line x1="118.1" x2="118.1" y1="317.1" y2="403.6" stroke="#dedede" stroke-width="1.8"/>
<g clip-path="url(#cp11)"><polygon points="33.1,403.6 33.1,354.2 39.9,332.1 46.7,332.1 53.6,335.1 60.4,350.2 67.2,378.6 74.0,358.6 80.9,378.6 87.7,373.2 94.5,377.8 101.3,398.3 108.2,391.3 115.0,389.7 121.8,332.1 128.6,337.5 135.5,339.1 142.3,337.5 149.1,340.5 155.9,336.1 162.8,329.1 169.6,335.1 176.4,338.1 183.2,348.2 190.1,367.2 196.9,366.2 196.9,403.6" fill="#7393cf"/>
<polyline points="33.1,405.6 33.1,354.2 39.9,332.1 46.7,332.1 53.6,335.1 60.4,350.2 67.2,378.6 74.0,358.6 80.9,378.6 87.7,373.2 94.5,377.8 101.3,398.3 108.2,391.3 115.0,389.7 121.8,332.1 128.6,337.5 135.5,339.1 142.3,337.5 149.1,340.5 155.9,336.1 162.8,329.1 169.6,335.1 176.4,338.1 183.2,348.2 190.1,367.2 196.9,366.2" fill="none" stroke="#bfbfbf" stroke-width="2.2" stroke-linejoin="miter" stroke-miterlimit="3"/><line x1="34.0" x2="34.0" y1="355.2" y2="403.6" stroke="#bfbfbf" stroke-width="2"/></g>
<rect x="32.1" y="317.1" width="165.8" height="86.5" fill="none" stroke="#c0c0c0" stroke-width="2.5"/>
<text class="a" x="18.2" y="320.1" textLength="12.1" lengthAdjust="spacingAndGlyphs">120</text>
<text class="a" x="18.2" y="333.5" textLength="12.1" lengthAdjust="spacingAndGlyphs">100</text>
<text class="a" x="22.3" y="347.5" textLength="8.1" lengthAdjust="spacingAndGlyphs">80</text>
<text class="a" x="22.3" y="361.2" textLength="8.1" lengthAdjust="spacingAndGlyphs">60</text>
<text class="a" x="22.3" y="375.2" textLength="8.1" lengthAdjust="spacingAndGlyphs">40</text>
<text class="a" x="22.3" y="389.3" textLength="8.1" lengthAdjust="spacingAndGlyphs">20</text>
<text class="a" x="26.3" y="403.1" textLength="4.0" lengthAdjust="spacingAndGlyphs">0</text>
<text class="a" x="46.7" y="412.3" text-anchor="middle">I</text>
<text class="a" x="67.2" y="412.3" text-anchor="middle">II</text>
<text class="a" x="87.7" y="412.3" text-anchor="middle">III</text>
<text class="a" x="108.2" y="412.3" text-anchor="middle">IV</text>
<text class="a" x="128.6" y="412.3" text-anchor="middle">I</text>
<text class="a" x="149.1" y="412.3" text-anchor="middle">II</text>
<text class="a" x="169.6" y="412.3" text-anchor="middle">III</text>
<text class="a" x="190.1" y="412.3" text-anchor="middle">IV</text>
<text class="a" x="69.4" y="423.8" textLength="16" lengthAdjust="spacingAndGlyphs">2021</text>
<text class="a" x="150.7" y="423.8" textLength="16" lengthAdjust="spacingAndGlyphs">2022</text>
<text class="t" x="40.7" y="304.6" textLength="148.8" lengthAdjust="spacingAndGlyphs">PCI GDP-LIQUID_ASSETS_TO_TA</text>
</g>
<g id="c12">
<clipPath id="cp12"><rect x="293.5" y="318.1" width="166.4" height="85.5"/></clipPath>
<line x1="293.5" x2="459.9" y1="330.1" y2="330.1" stroke="#e3e3e3" stroke-width="1.5"/>
<line x1="293.5" x2="459.9" y1="340.1" y2="340.1" stroke="#e3e3e3" stroke-width="1.5"/>
<line x1="293.5" x2="459.9" y1="350.6" y2="350.6" stroke="#e3e3e3" stroke-width="1.5"/>
<line x1="293.5" x2="459.9" y1="361.2" y2="361.2" stroke="#e3e3e3" stroke-width="1.5"/>
<line x1="293.5" x2="459.9" y1="371.2" y2="371.2" stroke="#e3e3e3" stroke-width="1.5"/>
<line x1="293.5" x2="459.9" y1="381.8" y2="381.8" stroke="#e3e3e3" stroke-width="1.5"/>
<line x1="293.5" x2="459.9" y1="392.3" y2="392.3" stroke="#e3e3e3" stroke-width="1.5"/>
<line x1="379.6" x2="379.6" y1="318.1" y2="403.6" stroke="#dedede" stroke-width="1.8"/>
<g clip-path="url(#cp12)"><polygon points="294.5,403.6 294.5,393.3 301.4,350.6 308.2,360.2 315.0,387.3 321.9,340.5 328.7,340.5 335.5,328.1 342.4,323.7 349.2,332.5 356.0,324.7 362.9,356.2 369.7,368.6 376.5,368.6 383.4,351.2 390.2,350.8 397.0,339.1 403.9,364.2 410.7,353.2 417.5,356.2 424.4,360.2 431.2,360.2 438.0,355.6 444.9,351.2 451.7,343.7 458.5,354.2 458.5,403.6" fill="#7393cf"/>
<polyline points="294.5,405.6 294.5,393.3 301.4,350.6 308.2,360.2 315.0,387.3 321.9,340.5 328.7,340.5 335.5,328.1 342.4,323.7 349.2,332.5 356.0,324.7 362.9,356.2 369.7,368.6 376.5,368.6 383.4,351.2 390.2,350.8 397.0,339.1 403.9,364.2 410.7,353.2 417.5,356.2 424.4,360.2 431.2,360.2 438.0,355.6 444.9,351.2 451.7,343.7 458.5,354.2" fill="none" stroke="#bfbfbf" stroke-width="2.2" stroke-linejoin="miter" stroke-miterlimit="3"/><line x1="295.4" x2="295.4" y1="394.3" y2="403.6" stroke="#bfbfbf" stroke-width="2"/></g>
<rect x="293.5" y="318.1" width="166.4" height="85.5" fill="none" stroke="#c0c0c0" stroke-width="2.5"/>
<text class="a" x="279.7" y="321.9" textLength="12.1" lengthAdjust="spacingAndGlyphs">115</text>
<text class="a" x="279.7" y="341.7" textLength="12.1" lengthAdjust="spacingAndGlyphs">105</text>
<text class="a" x="283.7" y="362.6" textLength="8.1" lengthAdjust="spacingAndGlyphs">95</text>
<text class="a" x="283.7" y="382.2" textLength="8.1" lengthAdjust="spacingAndGlyphs">85</text>
<text class="a" x="283.7" y="403.1" textLength="8.1" lengthAdjust="spacingAndGlyphs">75</text>
<text class="a" x="308.2" y="412.3" text-anchor="middle">I</text>
<text class="a" x="328.7" y="412.3" text-anchor="middle">II</text>
<text class="a" x="349.2" y="412.3" text-anchor="middle">III</text>
<text class="a" x="369.7" y="412.3" text-anchor="middle">IV</text>
<text class="a" x="390.2" y="412.3" text-anchor="middle">I</text>
<text class="a" x="410.7" y="412.3" text-anchor="middle">II</text>
<text class="a" x="431.2" y="412.3" text-anchor="middle">III</text>
<text class="a" x="451.7" y="412.3" text-anchor="middle">IV</text>
<text class="a" x="331.0" y="423.8" textLength="16" lengthAdjust="spacingAndGlyphs">2021</text>
<text class="a" x="412.3" y="423.8" textLength="16" lengthAdjust="spacingAndGlyphs">2022</text>
<text class="t" x="292.5" y="304.6" textLength="169.6" lengthAdjust="spacingAndGlyphs">PCI GDP-LOG_ECONOMIC_FREEDOM</text>
</g>
<g id="c13">
<clipPath id="cp13"><rect x="528.7" y="318.1" width="167.4" height="85.5"/></clipPath>
<line x1="528.7" x2="696.1" y1="330.1" y2="330.1" stroke="#e3e3e3" stroke-width="1.5"/>
<line x1="528.7" x2="696.1" y1="340.1" y2="340.1" stroke="#e3e3e3" stroke-width="1.5"/>
<line x1="528.7" x2="696.1" y1="350.6" y2="350.6" stroke="#e3e3e3" stroke-width="1.5"/>
<line x1="528.7" x2="696.1" y1="361.2" y2="361.2" stroke="#e3e3e3" stroke-width="1.5"/>
<line x1="528.7" x2="696.1" y1="371.2" y2="371.2" stroke="#e3e3e3" stroke-width="1.5"/>
<line x1="528.7" x2="696.1" y1="381.8" y2="381.8" stroke="#e3e3e3" stroke-width="1.5"/>
<line x1="528.7" x2="696.1" y1="392.3" y2="392.3" stroke="#e3e3e3" stroke-width="1.5"/>
<line x1="615.2" x2="615.2" y1="318.1" y2="403.6" stroke="#dedede" stroke-width="1.8"/>
<g clip-path="url(#cp13)"><polygon points="529.5,403.6 529.5,406.3 536.4,330.5 543.3,325.1 550.2,331.7 557.1,379.2 563.9,351.8 570.8,385.6 577.7,368.2 584.6,365.2 591.5,358.6 598.4,374.2 605.2,360.2 612.1,361.8 619.0,331.1 625.9,327.5 632.8,335.5 639.7,343.1 646.5,338.5 653.4,339.1 660.3,347.6 667.2,336.1 674.1,334.7 681.0,337.7 687.9,330.7 694.7,330.7 694.7,403.6" fill="#7393cf"/>
<polyline points="529.5,405.6 529.5,406.3 536.4,330.5 543.3,325.1 550.2,331.7 557.1,379.2 563.9,351.8 570.8,385.6 577.7,368.2 584.6,365.2 591.5,358.6 598.4,374.2 605.2,360.2 612.1,361.8 619.0,331.1 625.9,327.5 632.8,335.5 639.7,343.1 646.5,338.5 653.4,339.1 660.3,347.6 667.2,336.1 674.1,334.7 681.0,337.7 687.9,330.7 694.7,330.7" fill="none" stroke="#bfbfbf" stroke-width="2.2" stroke-linejoin="miter" stroke-miterlimit="3"/><line x1="530.4" x2="530.4" y1="407.3" y2="403.6" stroke="#bfbfbf" stroke-width="2"/></g>
<rect x="528.7" y="318.1" width="167.4" height="85.5" fill="none" stroke="#c0c0c0" stroke-width="2.5"/>
<text class="a" x="514.9" y="321.9" textLength="12.1" lengthAdjust="spacingAndGlyphs">102</text>
<text class="a" x="518.9" y="341.7" textLength="8.1" lengthAdjust="spacingAndGlyphs">98</text>
<text class="a" x="518.9" y="362.6" textLength="8.1" lengthAdjust="spacingAndGlyphs">94</text>
<text class="a" x="518.9" y="382.2" textLength="8.1" lengthAdjust="spacingAndGlyphs">90</text>
<text class="a" x="518.9" y="403.1" textLength="8.1" lengthAdjust="spacingAndGlyphs">86</text>
<text class="a" x="543.3" y="412.3" text-anchor="middle">I</text>
<text class="a" x="563.9" y="412.3" text-anchor="middle">II</text>
<text class="a" x="584.6" y="412.3" text-anchor="middle">III</text>
<text class="a" x="605.2" y="412.3" text-anchor="middle">IV</text>
<text class="a" x="625.9" y="412.3" text-anchor="middle">I</text>
<text class="a" x="646.5" y="412.3" text-anchor="middle">II</text>
<text class="a" x="667.2" y="412.3" text-anchor="middle">III</text>
<text class="a" x="687.9" y="412.3" text-anchor="middle">IV</text>
<text class="a" x="566.3" y="423.8" textLength="16" lengthAdjust="spacingAndGlyphs">2021</text>
<text class="a" x="648.2" y="423.8" textLength="16" lengthAdjust="spacingAndGlyphs">2022</text>
<text class="t" x="545.6" y="304.6" textLength="133.5" lengthAdjust="spacingAndGlyphs">PCI GDP-LOGREMI_SALARIES</text>
</g>
<g id="c14">
<clipPath id="cp14"><rect x="757.7" y="313.1" width="166.4" height="84.9"/></clipPath>
<line x1="757.7" x2="924.1" y1="322.5" y2="322.5" stroke="#e3e3e3" stroke-width="1.5"/>
<line x1="757.7" x2="924.1" y1="331.7" y2="331.7" stroke="#e3e3e3" stroke-width="1.5"/>
<line x1="757.7" x2="924.1" y1="341.2" y2="341.2" stroke="#e3e3e3" stroke-width="1.5"/>
<line x1="757.7" x2="924.1" y1="350.2" y2="350.2" stroke="#e3e3e3" stroke-width="1.5"/>
<line x1="757.7" x2="924.1" y1="359.2" y2="359.2" stroke="#e3e3e3" stroke-width="1.5"/>
<line x1="757.7" x2="924.1" y1="368.2" y2="368.2" stroke="#e3e3e3" stroke-width="1.5"/>
<line x1="757.7" x2="924.1" y1="377.6" y2="377.6" stroke="#e3e3e3" stroke-width="1.5"/>
<line x1="757.7" x2="924.1" y1="386.7" y2="386.7" stroke="#e3e3e3" stroke-width="1.5"/>
<line x1="844.0" x2="844.0" y1="313.1" y2="398.0" stroke="#dedede" stroke-width="1.8"/>
<g clip-path="url(#cp14)"><polygon points="759.3,398.0 759.3,370.2 766.1,314.1 772.9,330.1 779.7,340.2 786.5,352.8 793.3,321.1 800.1,344.2 806.9,346.2 813.7,360.2 820.5,358.2 827.3,354.6 834.1,349.6 840.9,349.6 847.7,315.1 854.5,341.2 861.3,322.1 868.1,320.7 874.9,322.1 881.7,323.5 888.5,320.7 895.3,322.5 902.1,320.7 908.9,339.1 915.7,387.3 922.5,360.2 922.5,398.0" fill="#7393cf"/>
<polyline points="759.3,400.0 759.3,370.2 766.1,314.1 772.9,330.1 779.7,340.2 786.5,352.8 793.3,321.1 800.1,344.2 806.9,346.2 813.7,360.2 820.5,358.2 827.3,354.6 834.1,349.6 840.9,349.6 847.7,315.1 854.5,341.2 861.3,322.1 868.1,320.7 874.9,322.1 881.7,323.5 888.5,320.7 895.3,322.5 902.1,320.7 908.9,339.1 915.7,387.3 922.5,360.2" fill="none" stroke="#bfbfbf" stroke-width="2.2" stroke-linejoin="miter" stroke-miterlimit="3"/><line x1="760.2" x2="760.2" y1="371.2" y2="398.0" stroke="#bfbfbf" stroke-width="2"/></g>
<rect x="757.7" y="313.1" width="166.4" height="84.9" fill="none" stroke="#c0c0c0" stroke-width="2.5"/>
<text class="a" x="747.9" y="324.7" textLength="8.1" lengthAdjust="spacingAndGlyphs">90</text>
<text class="a" x="747.9" y="343.2" textLength="8.1" lengthAdjust="spacingAndGlyphs">70</text>
<text class="a" x="747.9" y="361.6" textLength="8.1" lengthAdjust="spacingAndGlyphs">50</text>
<text class="a" x="747.9" y="379.8" textLength="8.1" lengthAdjust="spacingAndGlyphs">30</text>
<text class="a" x="747.9" y="397.9" textLength="8.1" lengthAdjust="spacingAndGlyphs">10</text>
<text class="a" x="772.9" y="406.7" text-anchor="middle">I</text>
<text class="a" x="793.3" y="406.7" text-anchor="middle">II</text>
<text class="a" x="813.7" y="406.7" text-anchor="middle">III</text>
<text class="a" x="834.1" y="406.7" text-anchor="middle">IV</text>
<text class="a" x="854.5" y="406.7" text-anchor="middle">I</text>
<text class="a" x="874.9" y="406.7" text-anchor="middle">II</text>
<text class="a" x="895.3" y="406.7" text-anchor="middle">III</text>
<text class="a" x="915.7" y="406.7" text-anchor="middle">IV</text>
<text class="a" x="795.5" y="418.2" textLength="16" lengthAdjust="spacingAndGlyphs">2021</text>
<text class="a" x="876.4" y="418.2" textLength="16" lengthAdjust="spacingAndGlyphs">2022</text>
<text class="t" x="758.1" y="299.0" textLength="164.0" lengthAdjust="spacingAndGlyphs">PCI INF-LOG_ECONOMIC_FREEDOM</text>
</g>
<g id="c15">
<clipPath id="cp15"><rect x="987.4" y="313.3" width="167.4" height="84.8"/></clipPath>
<line x1="987.4" x2="1154.8" y1="330.6" y2="330.6" stroke="#e3e3e3" stroke-width="1.5"/>
<line x1="987.4" x2="1154.8" y1="347.5" y2="347.5" stroke="#e3e3e3" stroke-width="1.5"/>
<line x1="987.4" x2="1154.8" y1="363.7" y2="363.7" stroke="#e3e3e3" stroke-width="1.5"/>
<line x1="987.4" x2="1154.8" y1="380.1" y2="380.1" stroke="#e3e3e3" stroke-width="1.5"/>
<line x1="1074.0" x2="1074.0" y1="313.3" y2="398.1" stroke="#dedede" stroke-width="1.8"/>
<g clip-path="url(#cp15)"><polygon points="988.0,398.1 988.0,370.0 994.9,330.6 1001.8,346.4 1008.8,341.2 1015.6,326.6 1022.5,349.1 1029.5,336.2 1036.3,358.8 1043.2,362.1 1050.2,357.6 1057.0,338.9 1064.0,394.1 1070.8,389.8 1077.8,331.1 1084.7,331.1 1091.5,322.3 1098.5,340.3 1105.4,340.8 1112.2,334.0 1119.2,323.4 1126.1,327.9 1133.0,326.6 1139.9,347.5 1146.8,379.0 1153.7,354.2 1153.7,398.1" fill="#7393cf"/>
<polyline points="988.0,400.1 988.0,370.0 994.9,330.6 1001.8,346.4 1008.8,341.2 1015.6,326.6 1022.5,349.1 1029.5,336.2 1036.3,358.8 1043.2,362.1 1050.2,357.6 1057.0,338.9 1064.0,394.1 1070.8,389.8 1077.8,331.1 1084.7,331.1 1091.5,322.3 1098.5,340.3 1105.4,340.8 1112.2,334.0 1119.2,323.4 1126.1,327.9 1133.0,326.6 1139.9,347.5 1146.8,379.0 1153.7,354.2" fill="none" stroke="#bfbfbf" stroke-width="2.2" stroke-linejoin="miter" stroke-miterlimit="3"/><line x1="988.9" x2="988.9" y1="371.0" y2="398.1" stroke="#bfbfbf" stroke-width="2"/></g>
<rect x="987.4" y="313.3" width="167.4" height="84.8" fill="none" stroke="#c0c0c0" stroke-width="2.5"/>
<text class="a" x="973.5" y="316.1" textLength="12.1" lengthAdjust="spacingAndGlyphs">120</text>
<text class="a" x="973.5" y="331.4" textLength="12.1" lengthAdjust="spacingAndGlyphs">100</text>
<text class="a" x="977.6" y="348.8" textLength="8.1" lengthAdjust="spacingAndGlyphs">80</text>
<text class="a" x="977.6" y="363.8" textLength="8.1" lengthAdjust="spacingAndGlyphs">60</text>
<text class="a" x="977.6" y="380.9" textLength="8.1" lengthAdjust="spacingAndGlyphs">40</text>
<text class="a" x="977.6" y="397.6" textLength="8.1" lengthAdjust="spacingAndGlyphs">20</text>
<text class="a" x="1001.8" y="406.8" text-anchor="middle">I</text>
<text class="a" x="1022.5" y="406.8" text-anchor="middle">II</text>
<text class="a" x="1043.2" y="406.8" text-anchor="middle">III</text>
<text class="a" x="1064.0" y="406.8" text-anchor="middle">IV</text>
<text class="a" x="1084.7" y="406.8" text-anchor="middle">I</text>
<text class="a" x="1105.4" y="406.8" text-anchor="middle">II</text>
<text class="a" x="1126.1" y="406.8" text-anchor="middle">III</text>
<text class="a" x="1146.8" y="406.8" text-anchor="middle">IV</text>
<text class="a" x="1024.9" y="418.3" textLength="16" lengthAdjust="spacingAndGlyphs">2021</text>
<text class="a" x="1107.0" y="418.3" textLength="16" lengthAdjust="spacingAndGlyphs">2022</text>
<text class="t" x="941.2" y="298.9" textLength="259.1" lengthAdjust="spacingAndGlyphs">PCI LIQUID_ASSETS_TO_TA-LOG_ECONOMIC_FREEDOM</text>
</g>
<g id="c16">
<clipPath id="cp16"><rect x="28.9" y="464.1" width="167.0" height="86.5"/></clipPath>
<line x1="28.9" x2="195.9" y1="479.1" y2="479.1" stroke="#e3e3e3" stroke-width="1.5"/>
<line x1="28.9" x2="195.9" y1="493.2" y2="493.2" stroke="#e3e3e3" stroke-width="1.5"/>
<line x1="28.9" x2="195.9" y1="507.2" y2="507.2" stroke="#e3e3e3" stroke-width="1.5"/>
<line x1="28.9" x2="195.9" y1="521.2" y2="521.2" stroke="#e3e3e3" stroke-width="1.5"/>
<line x1="28.9" x2="195.9" y1="535.3" y2="535.3" stroke="#e3e3e3" stroke-width="1.5"/>
<line x1="115.2" x2="115.2" y1="464.1" y2="550.6" stroke="#dedede" stroke-width="1.8"/>
<g clip-path="url(#cp16)"><polygon points="29.5,550.6 29.5,521.2 36.4,479.1 43.2,473.5 50.1,489.2 57.0,539.3 63.9,508.2 70.8,531.3 77.7,531.7 84.5,528.2 91.4,525.2 98.3,528.6 105.2,521.2 112.1,512.2 119.0,479.1 125.8,480.5 132.7,508.8 139.6,515.2 146.5,517.6 153.4,511.6 160.3,508.6 167.2,520.2 174.0,528.2 180.9,532.9 187.8,520.2 194.7,519.2 194.7,550.6" fill="#7393cf"/>
<polyline points="29.5,552.6 29.5,521.2 36.4,479.1 43.2,473.5 50.1,489.2 57.0,539.3 63.9,508.2 70.8,531.3 77.7,531.7 84.5,528.2 91.4,525.2 98.3,528.6 105.2,521.2 112.1,512.2 119.0,479.1 125.8,480.5 132.7,508.8 139.6,515.2 146.5,517.6 153.4,511.6 160.3,508.6 167.2,520.2 174.0,528.2 180.9,532.9 187.8,520.2 194.7,519.2" fill="none" stroke="#bfbfbf" stroke-width="2.2" stroke-linejoin="miter" stroke-miterlimit="3"/><line x1="30.4" x2="30.4" y1="522.2" y2="550.6" stroke="#bfbfbf" stroke-width="2"/></g>
<rect x="28.9" y="464.1" width="167.0" height="86.5" fill="none" stroke="#c0c0c0" stroke-width="2.5"/>
<text class="a" x="15.0" y="467.1" textLength="12.1" lengthAdjust="spacingAndGlyphs">120</text>
<text class="a" x="15.0" y="480.1" textLength="12.1" lengthAdjust="spacingAndGlyphs">100</text>
<text class="a" x="19.1" y="494.2" textLength="8.1" lengthAdjust="spacingAndGlyphs">80</text>
<text class="a" x="19.1" y="508.0" textLength="8.1" lengthAdjust="spacingAndGlyphs">60</text>
<text class="a" x="19.1" y="522.0" textLength="8.1" lengthAdjust="spacingAndGlyphs">40</text>
<text class="a" x="19.1" y="536.1" textLength="8.1" lengthAdjust="spacingAndGlyphs">20</text>
<text class="a" x="23.1" y="550.1" textLength="4.0" lengthAdjust="spacingAndGlyphs">0</text>
<text class="a" x="43.2" y="559.3" text-anchor="middle">I</text>
<text class="a" x="63.9" y="559.3" text-anchor="middle">II</text>
<text class="a" x="84.5" y="559.3" text-anchor="middle">III</text>
<text class="a" x="105.2" y="559.3" text-anchor="middle">IV</text>
<text class="a" x="125.8" y="559.3" text-anchor="middle">I</text>
<text class="a" x="146.5" y="559.3" text-anchor="middle">II</text>
<text class="a" x="167.2" y="559.3" text-anchor="middle">III</text>
<text class="a" x="187.8" y="559.3" text-anchor="middle">IV</text>
<text class="a" x="66.2" y="570.8" textLength="16" lengthAdjust="spacingAndGlyphs">2021</text>
<text class="a" x="148.1" y="570.8" textLength="16" lengthAdjust="spacingAndGlyphs">2022</text>
<text class="t" x="30.1" y="452.0" textLength="165.4" lengthAdjust="spacingAndGlyphs">PCI LIQUID_ASSETS_TO_TA-LOGFDI</text>
</g>
<g id="c17">
<clipPath id="cp17"><rect x="293.3" y="464.1" width="167.6" height="85.3"/></clipPath>
<line x1="293.3" x2="461.0" y1="479.1" y2="479.1" stroke="#e3e3e3" stroke-width="1.5"/>
<line x1="293.3" x2="461.0" y1="493.2" y2="493.2" stroke="#e3e3e3" stroke-width="1.5"/>
<line x1="293.3" x2="461.0" y1="506.8" y2="506.8" stroke="#e3e3e3" stroke-width="1.5"/>
<line x1="293.3" x2="461.0" y1="520.2" y2="520.2" stroke="#e3e3e3" stroke-width="1.5"/>
<line x1="293.3" x2="461.0" y1="533.9" y2="533.9" stroke="#e3e3e3" stroke-width="1.5"/>
<line x1="380.1" x2="380.1" y1="464.1" y2="549.4" stroke="#dedede" stroke-width="1.8"/>
<g clip-path="url(#cp17)"><polygon points="294.3,549.4 294.3,494.2 301.2,479.5 308.1,482.1 315.0,479.1 321.9,500.2 328.8,508.6 335.7,501.2 342.6,511.2 349.5,520.2 356.4,522.6 363.3,525.8 370.2,522.6 377.0,521.2 383.9,479.5 390.8,479.5 397.7,484.1 404.6,511.2 411.5,502.2 418.4,498.2 425.3,492.2 432.2,493.2 439.1,491.8 446.0,501.2 452.9,531.7 459.7,534.3 459.7,549.4" fill="#7393cf"/>
<polyline points="294.3,551.4 294.3,494.2 301.2,479.5 308.1,482.1 315.0,479.1 321.9,500.2 328.8,508.6 335.7,501.2 342.6,511.2 349.5,520.2 356.4,522.6 363.3,525.8 370.2,522.6 377.0,521.2 383.9,479.5 390.8,479.5 397.7,484.1 404.6,511.2 411.5,502.2 418.4,498.2 425.3,492.2 432.2,493.2 439.1,491.8 446.0,501.2 452.9,531.7 459.7,534.3" fill="none" stroke="#bfbfbf" stroke-width="2.2" stroke-linejoin="miter" stroke-miterlimit="3"/><line x1="295.2" x2="295.2" y1="495.2" y2="549.4" stroke="#bfbfbf" stroke-width="2"/></g>
<rect x="293.3" y="464.1" width="167.6" height="85.3" fill="none" stroke="#c0c0c0" stroke-width="2.5"/>
<text class="a" x="279.5" y="467.1" textLength="12.1" lengthAdjust="spacingAndGlyphs">120</text>
<text class="a" x="279.5" y="480.1" textLength="12.1" lengthAdjust="spacingAndGlyphs">100</text>
<text class="a" x="283.5" y="494.2" textLength="8.1" lengthAdjust="spacingAndGlyphs">80</text>
<text class="a" x="283.5" y="507.6" textLength="8.1" lengthAdjust="spacingAndGlyphs">60</text>
<text class="a" x="283.5" y="521.0" textLength="8.1" lengthAdjust="spacingAndGlyphs">40</text>
<text class="a" x="283.5" y="535.1" textLength="8.1" lengthAdjust="spacingAndGlyphs">20</text>
<text class="a" x="287.6" y="548.7" textLength="4.0" lengthAdjust="spacingAndGlyphs">0</text>
<text class="a" x="308.1" y="558.1" text-anchor="middle">I</text>
<text class="a" x="328.8" y="558.1" text-anchor="middle">II</text>
<text class="a" x="349.5" y="558.1" text-anchor="middle">III</text>
<text class="a" x="370.2" y="558.1" text-anchor="middle">IV</text>
<text class="a" x="390.8" y="558.1" text-anchor="middle">I</text>
<text class="a" x="411.5" y="558.1" text-anchor="middle">II</text>
<text class="a" x="432.2" y="558.1" text-anchor="middle">III</text>
<text class="a" x="452.9" y="558.1" text-anchor="middle">IV</text>
<text class="a" x="331.1" y="569.6" textLength="16" lengthAdjust="spacingAndGlyphs">2021</text>
<text class="a" x="413.2" y="569.6" textLength="16" lengthAdjust="spacingAndGlyphs">2022</text>
<text class="t" x="271.1" y="450.2" textLength="212.9" lengthAdjust="spacingAndGlyphs">PCI LIQUID_ASSETS_TO_TA-LOGREMI_OTHER</text>
</g>
<g id="c18">
<clipPath id="cp18"><rect x="540.0" y="459.8" width="167.1" height="85.1"/></clipPath>
<line x1="540.0" x2="707.1" y1="474.8" y2="474.8" stroke="#e3e3e3" stroke-width="1.5"/>
<line x1="540.0" x2="707.1" y1="488.4" y2="488.4" stroke="#e3e3e3" stroke-width="1.5"/>
<line x1="540.0" x2="707.1" y1="502.3" y2="502.3" stroke="#e3e3e3" stroke-width="1.5"/>
<line x1="540.0" x2="707.1" y1="516.5" y2="516.5" stroke="#e3e3e3" stroke-width="1.5"/>
<line x1="540.0" x2="707.1" y1="530.2" y2="530.2" stroke="#e3e3e3" stroke-width="1.5"/>
<line x1="626.7" x2="626.7" y1="459.8" y2="544.9" stroke="#dedede" stroke-width="1.8"/>
<g clip-path="url(#cp18)"><polygon points="541.0,544.9 541.0,514.4 547.9,475.2 554.8,475.2 561.7,476.5 568.6,490.5 575.5,519.6 582.3,504.4 589.2,515.5 596.1,504.4 603.0,506.5 609.9,529.6 616.8,522.8 623.6,525.9 630.5,475.2 637.4,478.0 644.3,479.4 651.2,478.0 658.1,480.7 664.9,473.4 671.8,465.5 678.7,472.1 685.6,473.8 692.5,489.4 699.4,505.7 706.2,501.5 706.2,544.9" fill="#7393cf"/>
<polyline points="541.0,546.9 541.0,514.4 547.9,475.2 554.8,475.2 561.7,476.5 568.6,490.5 575.5,519.6 582.3,504.4 589.2,515.5 596.1,504.4 603.0,506.5 609.9,529.6 616.8,522.8 623.6,525.9 630.5,475.2 637.4,478.0 644.3,479.4 651.2,478.0 658.1,480.7 664.9,473.4 671.8,465.5 678.7,472.1 685.6,473.8 692.5,489.4 699.4,505.7 706.2,501.5" fill="none" stroke="#bfbfbf" stroke-width="2.2" stroke-linejoin="miter" stroke-miterlimit="3"/><line x1="541.9" x2="541.9" y1="515.4" y2="544.9" stroke="#bfbfbf" stroke-width="2"/></g>
<rect x="540.0" y="459.8" width="167.1" height="85.1" fill="none" stroke="#c0c0c0" stroke-width="2.5"/>
<text class="a" x="526.1" y="462.6" textLength="12.1" lengthAdjust="spacingAndGlyphs">120</text>
<text class="a" x="526.1" y="475.8" textLength="12.1" lengthAdjust="spacingAndGlyphs">100</text>
<text class="a" x="530.2" y="489.7" textLength="8.1" lengthAdjust="spacingAndGlyphs">80</text>
<text class="a" x="530.2" y="503.7" textLength="8.1" lengthAdjust="spacingAndGlyphs">60</text>
<text class="a" x="530.2" y="516.8" textLength="8.1" lengthAdjust="spacingAndGlyphs">40</text>
<text class="a" x="530.2" y="530.8" textLength="8.1" lengthAdjust="spacingAndGlyphs">20</text>
<text class="a" x="534.2" y="544.5" textLength="4.0" lengthAdjust="spacingAndGlyphs">0</text>
<text class="a" x="554.8" y="553.6" text-anchor="middle">I</text>
<text class="a" x="575.5" y="553.6" text-anchor="middle">II</text>
<text class="a" x="596.1" y="553.6" text-anchor="middle">III</text>
<text class="a" x="616.8" y="553.6" text-anchor="middle">IV</text>
<text class="a" x="637.4" y="553.6" text-anchor="middle">I</text>
<text class="a" x="658.1" y="553.6" text-anchor="middle">II</text>
<text class="a" x="678.7" y="553.6" text-anchor="middle">III</text>
<text class="a" x="699.4" y="553.6" text-anchor="middle">IV</text>
<text class="a" x="577.8" y="565.1" textLength="16" lengthAdjust="spacingAndGlyphs">2021</text>
<text class="a" x="659.7" y="565.1" textLength="16" lengthAdjust="spacingAndGlyphs">2022</text>
<text class="t" x="510.2" y="446.1" textLength="223.5" lengthAdjust="spacingAndGlyphs">PCI LIQUID_ASSETS_TO_TA-LOGREMI_SALARIES</text>
</g>
<g id="c19">
<clipPath id="cp19"><rect x="759.5" y="454.1" width="167.0" height="85.5"/></clipPath>
<line x1="759.5" x2="926.5" y1="464.1" y2="464.1" stroke="#e3e3e3" stroke-width="1.5"/>
<line x1="759.5" x2="926.5" y1="473.5" y2="473.5" stroke="#e3e3e3" stroke-width="1.5"/>
<line x1="759.5" x2="926.5" y1="482.6" y2="482.6" stroke="#e3e3e3" stroke-width="1.5"/>
<line x1="759.5" x2="926.5" y1="491.8" y2="491.8" stroke="#e3e3e3" stroke-width="1.5"/>
<line x1="759.5" x2="926.5" y1="501.2" y2="501.2" stroke="#e3e3e3" stroke-width="1.5"/>
<line x1="759.5" x2="926.5" y1="510.2" y2="510.2" stroke="#e3e3e3" stroke-width="1.5"/>
<line x1="759.5" x2="926.5" y1="519.6" y2="519.6" stroke="#e3e3e3" stroke-width="1.5"/>
<line x1="759.5" x2="926.5" y1="528.7" y2="528.7" stroke="#e3e3e3" stroke-width="1.5"/>
<line x1="846.4" x2="846.4" y1="454.1" y2="539.6" stroke="#dedede" stroke-width="1.8"/>
<g clip-path="url(#cp19)"><polygon points="760.7,539.6 760.7,540.3 767.6,464.5 774.5,460.7 781.4,465.1 788.2,517.2 795.1,476.1 802.0,518.2 808.9,536.9 815.8,528.3 822.7,532.3 829.5,519.8 836.4,504.2 843.3,501.2 850.2,464.5 857.1,476.1 864.0,494.2 870.8,515.2 877.7,523.3 884.6,508.2 891.5,500.2 898.4,522.3 905.3,524.3 912.1,528.7 919.0,528.7 925.9,511.2 925.9,539.6" fill="#7393cf"/>
<polyline points="760.7,541.6 760.7,540.3 767.6,464.5 774.5,460.7 781.4,465.1 788.2,517.2 795.1,476.1 802.0,518.2 808.9,536.9 815.8,528.3 822.7,532.3 829.5,519.8 836.4,504.2 843.3,501.2 850.2,464.5 857.1,476.1 864.0,494.2 870.8,515.2 877.7,523.3 884.6,508.2 891.5,500.2 898.4,522.3 905.3,524.3 912.1,528.7 919.0,528.7 925.9,511.2" fill="none" stroke="#bfbfbf" stroke-width="2.2" stroke-linejoin="miter" stroke-miterlimit="3"/><line x1="761.6" x2="761.6" y1="541.3" y2="539.6" stroke="#bfbfbf" stroke-width="2"/></g>
<rect x="759.5" y="454.1" width="167.0" height="85.5" fill="none" stroke="#c0c0c0" stroke-width="2.5"/>
<text class="a" x="745.6" y="465.5" textLength="12.1" lengthAdjust="spacingAndGlyphs">100</text>
<text class="a" x="749.7" y="484.0" textLength="8.1" lengthAdjust="spacingAndGlyphs">80</text>
<text class="a" x="749.7" y="502.2" textLength="8.1" lengthAdjust="spacingAndGlyphs">60</text>
<text class="a" x="749.7" y="520.6" textLength="8.1" lengthAdjust="spacingAndGlyphs">40</text>
<text class="a" x="749.7" y="538.7" textLength="8.1" lengthAdjust="spacingAndGlyphs">20</text>
<text class="a" x="774.5" y="548.3" text-anchor="middle">I</text>
<text class="a" x="795.1" y="548.3" text-anchor="middle">II</text>
<text class="a" x="815.8" y="548.3" text-anchor="middle">III</text>
<text class="a" x="836.4" y="548.3" text-anchor="middle">IV</text>
<text class="a" x="857.1" y="548.3" text-anchor="middle">I</text>
<text class="a" x="877.7" y="548.3" text-anchor="middle">II</text>
<text class="a" x="898.4" y="548.3" text-anchor="middle">III</text>
<text class="a" x="919.0" y="548.3" text-anchor="middle">IV</text>
<text class="a" x="797.4" y="559.8" textLength="16" lengthAdjust="spacingAndGlyphs">2021</text>
<text class="a" x="879.4" y="559.8" textLength="16" lengthAdjust="spacingAndGlyphs">2022</text>
<text class="t" x="786.2" y="440.6" textLength="112.7" lengthAdjust="spacingAndGlyphs">PCI LOGLOANS-EMU_INF</text>
</g>
<g id="c20">
<clipPath id="cp20"><rect x="991.5" y="455.7" width="167.4" height="85.3"/></clipPath>
<line x1="991.5" x2="1158.9" y1="471.1" y2="471.1" stroke="#e3e3e3" stroke-width="1.5"/>
<line x1="991.5" x2="1158.9" y1="484.8" y2="484.8" stroke="#e3e3e3" stroke-width="1.5"/>
<line x1="991.5" x2="1158.9" y1="498.6" y2="498.6" stroke="#e3e3e3" stroke-width="1.5"/>
<line x1="991.5" x2="1158.9" y1="512.2" y2="512.2" stroke="#e3e3e3" stroke-width="1.5"/>
<line x1="991.5" x2="1158.9" y1="525.9" y2="525.9" stroke="#e3e3e3" stroke-width="1.5"/>
<line x1="1078.1" x2="1078.1" y1="455.7" y2="541.0" stroke="#dedede" stroke-width="1.8"/>
<g clip-path="url(#cp20)"><polygon points="992.3,541.0 992.3,508.2 999.2,470.1 1006.1,466.5 1013.0,469.1 1019.8,502.8 1026.7,493.2 1033.6,491.2 1040.5,508.6 1047.4,502.2 1054.3,511.2 1061.2,519.8 1068.1,511.2 1075.0,514.2 1081.9,470.5 1088.8,482.2 1095.7,493.2 1102.6,502.2 1109.4,506.2 1116.3,499.8 1123.2,484.6 1130.1,501.6 1137.0,494.8 1143.9,522.7 1150.8,525.3 1157.7,524.3 1157.7,541.0" fill="#7393cf"/>
<polyline points="992.3,543.0 992.3,508.2 999.2,470.1 1006.1,466.5 1013.0,469.1 1019.8,502.8 1026.7,493.2 1033.6,491.2 1040.5,508.6 1047.4,502.2 1054.3,511.2 1061.2,519.8 1068.1,511.2 1075.0,514.2 1081.9,470.5 1088.8,482.2 1095.7,493.2 1102.6,502.2 1109.4,506.2 1116.3,499.8 1123.2,484.6 1130.1,501.6 1137.0,494.8 1143.9,522.7 1150.8,525.3 1157.7,524.3" fill="none" stroke="#bfbfbf" stroke-width="2.2" stroke-linejoin="miter" stroke-miterlimit="3"/><line x1="993.2" x2="993.2" y1="509.2" y2="541.0" stroke="#bfbfbf" stroke-width="2"/></g>
<rect x="991.5" y="455.7" width="167.4" height="85.3" fill="none" stroke="#c0c0c0" stroke-width="2.5"/>
<text class="a" x="977.6" y="458.5" textLength="12.1" lengthAdjust="spacingAndGlyphs">120</text>
<text class="a" x="977.6" y="471.9" textLength="12.1" lengthAdjust="spacingAndGlyphs">100</text>
<text class="a" x="981.7" y="486.0" textLength="8.1" lengthAdjust="spacingAndGlyphs">80</text>
<text class="a" x="981.7" y="499.6" textLength="8.1" lengthAdjust="spacingAndGlyphs">60</text>
<text class="a" x="981.7" y="513.0" textLength="8.1" lengthAdjust="spacingAndGlyphs">40</text>
<text class="a" x="981.7" y="526.7" textLength="8.1" lengthAdjust="spacingAndGlyphs">20</text>
<text class="a" x="985.7" y="540.3" textLength="4.0" lengthAdjust="spacingAndGlyphs">0</text>
<text class="a" x="1006.1" y="549.7" text-anchor="middle">I</text>
<text class="a" x="1026.7" y="549.7" text-anchor="middle">II</text>
<text class="a" x="1047.4" y="549.7" text-anchor="middle">III</text>
<text class="a" x="1068.1" y="549.7" text-anchor="middle">IV</text>
<text class="a" x="1088.8" y="549.7" text-anchor="middle">I</text>
<text class="a" x="1109.4" y="549.7" text-anchor="middle">II</text>
<text class="a" x="1130.1" y="549.7" text-anchor="middle">III</text>
<text class="a" x="1150.8" y="549.7" text-anchor="middle">IV</text>
<text class="a" x="1029.1" y="561.2" textLength="16" lengthAdjust="spacingAndGlyphs">2021</text>
<text class="a" x="1111.1" y="561.2" textLength="16" lengthAdjust="spacingAndGlyphs">2022</text>
<text class="t" x="994.7" y="442.0" textLength="163.2" lengthAdjust="spacingAndGlyphs">PCI LOGLOANS-LOGREMI_SALARIES</text>
</g>
<g id="c21">
<clipPath id="cp21"><rect x="30.3" y="607.1" width="167.2" height="85.9"/></clipPath>
<line x1="30.3" x2="197.5" y1="621.7" y2="621.7" stroke="#e3e3e3" stroke-width="1.5"/>
<line x1="30.3" x2="197.5" y1="635.8" y2="635.8" stroke="#e3e3e3" stroke-width="1.5"/>
<line x1="30.3" x2="197.5" y1="649.8" y2="649.8" stroke="#e3e3e3" stroke-width="1.5"/>
<line x1="30.3" x2="197.5" y1="663.8" y2="663.8" stroke="#e3e3e3" stroke-width="1.5"/>
<line x1="30.3" x2="197.5" y1="677.9" y2="677.9" stroke="#e3e3e3" stroke-width="1.5"/>
<line x1="116.9" x2="116.9" y1="607.1" y2="693.0" stroke="#dedede" stroke-width="1.8"/>
<g clip-path="url(#cp21)"><polygon points="31.3,693.0 31.3,649.2 38.2,621.7 45.0,623.7 51.9,621.7 58.8,681.3 65.7,662.8 72.5,662.8 79.4,675.3 86.3,677.3 93.2,677.3 100.0,679.7 106.9,679.7 113.8,682.7 120.7,621.7 127.5,641.2 134.4,647.2 141.3,655.8 148.2,657.6 155.0,660.2 161.9,669.6 168.8,665.2 175.7,672.7 182.5,674.3 189.4,684.9 196.3,682.7 196.3,693.0" fill="#7393cf"/>
<polyline points="31.3,695.0 31.3,649.2 38.2,621.7 45.0,623.7 51.9,621.7 58.8,681.3 65.7,662.8 72.5,662.8 79.4,675.3 86.3,677.3 93.2,677.3 100.0,679.7 106.9,679.7 113.8,682.7 120.7,621.7 127.5,641.2 134.4,647.2 141.3,655.8 148.2,657.6 155.0,660.2 161.9,669.6 168.8,665.2 175.7,672.7 182.5,674.3 189.4,684.9 196.3,682.7" fill="none" stroke="#bfbfbf" stroke-width="2.2" stroke-linejoin="miter" stroke-miterlimit="3"/><line x1="32.2" x2="32.2" y1="650.2" y2="693.0" stroke="#bfbfbf" stroke-width="2"/></g>
<rect x="30.3" y="607.1" width="167.2" height="85.9" fill="none" stroke="#c0c0c0" stroke-width="2.5"/>
<text class="a" x="16.4" y="609.5" textLength="12.1" lengthAdjust="spacingAndGlyphs">120</text>
<text class="a" x="16.4" y="622.9" textLength="12.1" lengthAdjust="spacingAndGlyphs">100</text>
<text class="a" x="20.5" y="637.0" textLength="8.1" lengthAdjust="spacingAndGlyphs">80</text>
<text class="a" x="20.5" y="650.6" textLength="8.1" lengthAdjust="spacingAndGlyphs">60</text>
<text class="a" x="20.5" y="664.6" textLength="8.1" lengthAdjust="spacingAndGlyphs">40</text>
<text class="a" x="20.5" y="678.7" textLength="8.1" lengthAdjust="spacingAndGlyphs">20</text>
<text class="a" x="24.5" y="692.7" textLength="4.0" lengthAdjust="spacingAndGlyphs">0</text>
<text class="a" x="45.0" y="701.7" text-anchor="middle">I</text>
<text class="a" x="65.7" y="701.7" text-anchor="middle">II</text>
<text class="a" x="86.3" y="701.7" text-anchor="middle">III</text>
<text class="a" x="106.9" y="701.7" text-anchor="middle">IV</text>
<text class="a" x="127.5" y="701.7" text-anchor="middle">I</text>
<text class="a" x="148.2" y="701.7" text-anchor="middle">II</text>
<text class="a" x="168.8" y="701.7" text-anchor="middle">III</text>
<text class="a" x="189.4" y="701.7" text-anchor="middle">IV</text>
<text class="a" x="68.0" y="713.2" textLength="16" lengthAdjust="spacingAndGlyphs">2021</text>
<text class="a" x="149.8" y="713.2" textLength="16" lengthAdjust="spacingAndGlyphs">2022</text>
<text class="t" x="30.1" y="593.0" textLength="169.0" lengthAdjust="spacingAndGlyphs">PCI LOGMONEX-LOGREMI_SALARIES</text>
</g>
<g id="c22">
<clipPath id="cp22"><rect x="293.3" y="601.1" width="167.6" height="85.3"/></clipPath>
<line x1="293.3" x2="461.0" y1="614.5" y2="614.5" stroke="#e3e3e3" stroke-width="1.5"/>
<line x1="293.3" x2="461.0" y1="626.1" y2="626.1" stroke="#e3e3e3" stroke-width="1.5"/>
<line x1="293.3" x2="461.0" y1="637.8" y2="637.8" stroke="#e3e3e3" stroke-width="1.5"/>
<line x1="293.3" x2="461.0" y1="649.6" y2="649.6" stroke="#e3e3e3" stroke-width="1.5"/>
<line x1="293.3" x2="461.0" y1="661.2" y2="661.2" stroke="#e3e3e3" stroke-width="1.5"/>
<line x1="293.3" x2="461.0" y1="672.7" y2="672.7" stroke="#e3e3e3" stroke-width="1.5"/>
<line x1="380.2" x2="380.2" y1="601.1" y2="686.4" stroke="#dedede" stroke-width="1.8"/>
<g clip-path="url(#cp22)"><polygon points="294.3,686.4 294.3,651.2 301.2,625.7 308.1,625.7 315.0,625.7 321.9,630.2 328.8,625.5 335.7,627.1 342.6,628.7 349.5,628.7 356.4,628.5 363.3,631.6 370.2,631.6 377.1,633.2 384.0,624.5 390.9,612.1 397.8,649.8 404.7,637.2 411.6,648.2 418.5,659.2 425.4,648.2 432.3,648.2 439.2,650.2 446.1,641.2 453.0,662.6 459.9,671.3 459.9,686.4" fill="#7393cf"/>
<polyline points="294.3,688.4 294.3,651.2 301.2,625.7 308.1,625.7 315.0,625.7 321.9,630.2 328.8,625.5 335.7,627.1 342.6,628.7 349.5,628.7 356.4,628.5 363.3,631.6 370.2,631.6 377.1,633.2 384.0,624.5 390.9,612.1 397.8,649.8 404.7,637.2 411.6,648.2 418.5,659.2 425.4,648.2 432.3,648.2 439.2,650.2 446.1,641.2 453.0,662.6 459.9,671.3" fill="none" stroke="#bfbfbf" stroke-width="2.2" stroke-linejoin="miter" stroke-miterlimit="3"/><line x1="295.2" x2="295.2" y1="652.2" y2="686.4" stroke="#bfbfbf" stroke-width="2"/></g>
<rect x="293.3" y="601.1" width="167.6" height="85.3" fill="none" stroke="#c0c0c0" stroke-width="2.5"/>
<text class="a" x="279.5" y="615.5" textLength="12.1" lengthAdjust="spacingAndGlyphs">120</text>
<text class="a" x="283.5" y="638.2" textLength="8.1" lengthAdjust="spacingAndGlyphs">80</text>
<text class="a" x="283.5" y="650.6" textLength="8.1" lengthAdjust="spacingAndGlyphs">60</text>
<text class="a" x="283.5" y="673.3" textLength="8.1" lengthAdjust="spacingAndGlyphs">20</text>
<text class="a" x="287.6" y="686.1" textLength="4.0" lengthAdjust="spacingAndGlyphs">0</text>
<text class="a" x="308.1" y="695.1" text-anchor="middle">I</text>
<text class="a" x="328.8" y="695.1" text-anchor="middle">II</text>
<text class="a" x="349.5" y="695.1" text-anchor="middle">III</text>
<text class="a" x="370.2" y="695.1" text-anchor="middle">IV</text>
<text class="a" x="390.9" y="695.1" text-anchor="middle">I</text>
<text class="a" x="411.6" y="695.1" text-anchor="middle">II</text>
<text class="a" x="432.3" y="695.1" text-anchor="middle">III</text>
<text class="a" x="453.0" y="695.1" text-anchor="middle">IV</text>
<text class="a" x="331.2" y="706.6" textLength="16" lengthAdjust="spacingAndGlyphs">2021</text>
<text class="a" x="413.3" y="706.6" textLength="16" lengthAdjust="spacingAndGlyphs">2022</text>
<text class="t" x="308.8" y="587.6" textLength="136.7" lengthAdjust="spacingAndGlyphs">PCI LOGREMI_PERS-EMU_INF</text>
</g>
<g id="c23">
<clipPath id="cp23"><rect x="548.1" y="595.6" width="167.3" height="85.2"/></clipPath>
<line x1="548.1" x2="715.3" y1="611.2" y2="611.2" stroke="#e3e3e3" stroke-width="1.5"/>
<line x1="548.1" x2="715.3" y1="624.8" y2="624.8" stroke="#e3e3e3" stroke-width="1.5"/>
<line x1="548.1" x2="715.3" y1="638.2" y2="638.2" stroke="#e3e3e3" stroke-width="1.5"/>
<line x1="548.1" x2="715.3" y1="651.9" y2="651.9" stroke="#e3e3e3" stroke-width="1.5"/>
<line x1="548.1" x2="715.3" y1="665.3" y2="665.3" stroke="#e3e3e3" stroke-width="1.5"/>
<line x1="635.0" x2="635.0" y1="595.6" y2="680.8" stroke="#dedede" stroke-width="1.8"/>
<g clip-path="url(#cp23)"><polygon points="549.1,680.8 549.1,653.4 556.0,624.6 562.9,627.4 569.8,629.1 576.7,623.1 583.6,661.0 590.5,659.3 597.4,609.4 604.3,620.9 611.2,614.4 618.1,623.1 625.0,647.4 631.9,651.7 638.8,624.2 645.7,639.3 652.6,654.5 659.5,668.6 666.4,664.2 673.3,664.2 680.2,669.0 687.1,666.4 694.0,669.0 700.9,644.3 707.8,662.1 714.7,650.6 714.7,680.8" fill="#7393cf"/>
<polyline points="549.1,682.8 549.1,653.4 556.0,624.6 562.9,627.4 569.8,629.1 576.7,623.1 583.6,661.0 590.5,659.3 597.4,609.4 604.3,620.9 611.2,614.4 618.1,623.1 625.0,647.4 631.9,651.7 638.8,624.2 645.7,639.3 652.6,654.5 659.5,668.6 666.4,664.2 673.3,664.2 680.2,669.0 687.1,666.4 694.0,669.0 700.9,644.3 707.8,662.1 714.7,650.6" fill="none" stroke="#bfbfbf" stroke-width="2.2" stroke-linejoin="miter" stroke-miterlimit="3"/><line x1="550.0" x2="550.0" y1="654.4" y2="680.8" stroke="#bfbfbf" stroke-width="2"/></g>
<rect x="548.1" y="595.6" width="167.3" height="85.2" fill="none" stroke="#c0c0c0" stroke-width="2.5"/>
<text class="a" x="534.2" y="598.8" textLength="12.1" lengthAdjust="spacingAndGlyphs">140</text>
<text class="a" x="534.2" y="612.0" textLength="12.1" lengthAdjust="spacingAndGlyphs">120</text>
<text class="a" x="534.2" y="625.5" textLength="12.1" lengthAdjust="spacingAndGlyphs">100</text>
<text class="a" x="538.3" y="639.6" textLength="8.1" lengthAdjust="spacingAndGlyphs">80</text>
<text class="a" x="538.3" y="652.1" textLength="8.1" lengthAdjust="spacingAndGlyphs">60</text>
<text class="a" x="538.3" y="666.0" textLength="8.1" lengthAdjust="spacingAndGlyphs">40</text>
<text class="a" x="538.3" y="680.1" textLength="8.1" lengthAdjust="spacingAndGlyphs">20</text>
<text class="a" x="562.9" y="689.5" text-anchor="middle">I</text>
<text class="a" x="583.6" y="689.5" text-anchor="middle">II</text>
<text class="a" x="604.3" y="689.5" text-anchor="middle">III</text>
<text class="a" x="625.0" y="689.5" text-anchor="middle">IV</text>
<text class="a" x="645.7" y="689.5" text-anchor="middle">I</text>
<text class="a" x="666.4" y="689.5" text-anchor="middle">II</text>
<text class="a" x="687.1" y="689.5" text-anchor="middle">III</text>
<text class="a" x="707.8" y="689.5" text-anchor="middle">IV</text>
<text class="a" x="586.0" y="701.0" textLength="16" lengthAdjust="spacingAndGlyphs">2021</text>
<text class="a" x="668.1" y="701.0" textLength="16" lengthAdjust="spacingAndGlyphs">2022</text>
<text class="t" x="516.0" y="581.8" textLength="231.3" lengthAdjust="spacingAndGlyphs">PCI LOG_ECONOMIC_FREEDOM-LOGBLOCKCHAIN</text>
</g>
<g id="c24">
<clipPath id="cp24"><rect x="761.1" y="595.1" width="167.0" height="85.9"/></clipPath>
<line x1="761.1" x2="928.1" y1="605.5" y2="605.5" stroke="#e3e3e3" stroke-width="1.5"/>
<line x1="761.1" x2="928.1" y1="614.7" y2="614.7" stroke="#e3e3e3" stroke-width="1.5"/>
<line x1="761.1" x2="928.1" y1="624.2" y2="624.2" stroke="#e3e3e3" stroke-width="1.5"/>
<line x1="761.1" x2="928.1" y1="633.2" y2="633.2" stroke="#e3e3e3" stroke-width="1.5"/>
<line x1="761.1" x2="928.1" y1="642.6" y2="642.6" stroke="#e3e3e3" stroke-width="1.5"/>
<line x1="761.1" x2="928.1" y1="651.8" y2="651.8" stroke="#e3e3e3" stroke-width="1.5"/>
<line x1="761.1" x2="928.1" y1="661.2" y2="661.2" stroke="#e3e3e3" stroke-width="1.5"/>
<line x1="761.1" x2="928.1" y1="670.3" y2="670.3" stroke="#e3e3e3" stroke-width="1.5"/>
<line x1="847.7" x2="847.7" y1="595.1" y2="681.0" stroke="#dedede" stroke-width="1.8"/>
<g clip-path="url(#cp24)"><polygon points="762.1,681.0 762.1,683.3 769.0,606.1 775.9,633.2 782.7,605.1 789.6,670.3 796.5,616.1 803.4,675.9 810.2,667.3 817.1,661.8 824.0,648.6 830.9,657.2 837.7,668.7 844.6,656.2 851.5,605.7 858.4,626.2 865.2,635.6 872.1,641.6 879.0,632.8 885.9,642.6 892.7,652.8 899.6,633.2 906.5,623.2 913.4,630.2 920.2,636.2 927.1,636.2 927.1,681.0" fill="#7393cf"/>
<polyline points="762.1,683.0 762.1,683.3 769.0,606.1 775.9,633.2 782.7,605.1 789.6,670.3 796.5,616.1 803.4,675.9 810.2,667.3 817.1,661.8 824.0,648.6 830.9,657.2 837.7,668.7 844.6,656.2 851.5,605.7 858.4,626.2 865.2,635.6 872.1,641.6 879.0,632.8 885.9,642.6 892.7,652.8 899.6,633.2 906.5,623.2 913.4,630.2 920.2,636.2 927.1,636.2" fill="none" stroke="#bfbfbf" stroke-width="2.2" stroke-linejoin="miter" stroke-miterlimit="3"/><line x1="763.0" x2="763.0" y1="684.3" y2="681.0" stroke="#bfbfbf" stroke-width="2"/></g>
<rect x="761.1" y="595.1" width="167.0" height="85.9" fill="none" stroke="#c0c0c0" stroke-width="2.5"/>
<text class="a" x="747.3" y="606.9" textLength="12.1" lengthAdjust="spacingAndGlyphs">100</text>
<text class="a" x="751.3" y="625.1" textLength="8.1" lengthAdjust="spacingAndGlyphs">80</text>
<text class="a" x="751.3" y="643.6" textLength="8.1" lengthAdjust="spacingAndGlyphs">60</text>
<text class="a" x="751.3" y="662.0" textLength="8.1" lengthAdjust="spacingAndGlyphs">40</text>
<text class="a" x="751.3" y="680.1" textLength="8.1" lengthAdjust="spacingAndGlyphs">20</text>
<text class="a" x="775.9" y="689.7" text-anchor="middle">I</text>
<text class="a" x="796.5" y="689.7" text-anchor="middle">II</text>
<text class="a" x="817.1" y="689.7" text-anchor="middle">III</text>
<text class="a" x="837.7" y="689.7" text-anchor="middle">IV</text>
<text class="a" x="858.4" y="689.7" text-anchor="middle">I</text>
<text class="a" x="879.0" y="689.7" text-anchor="middle">II</text>
<text class="a" x="899.6" y="689.7" text-anchor="middle">III</text>
<text class="a" x="920.2" y="689.7" text-anchor="middle">IV</text>
<text class="a" x="798.8" y="701.2" textLength="16" lengthAdjust="spacingAndGlyphs">2021</text>
<text class="a" x="880.6" y="701.2" textLength="16" lengthAdjust="spacingAndGlyphs">2022</text>
<text class="t" x="779.5" y="581.6" textLength="127.9" lengthAdjust="spacingAndGlyphs">PCI LOGFDI-LOGREMI_PERS</text>
</g>
<g id="c25">
<clipPath id="cp25"><rect x="990.1" y="593.1" width="167.4" height="85.3"/></clipPath>
<line x1="990.1" x2="1157.5" y1="603.1" y2="603.1" stroke="#e3e3e3" stroke-width="1.5"/>
<line x1="990.1" x2="1157.5" y1="612.1" y2="612.1" stroke="#e3e3e3" stroke-width="1.5"/>
<line x1="990.1" x2="1157.5" y1="621.5" y2="621.5" stroke="#e3e3e3" stroke-width="1.5"/>
<line x1="990.1" x2="1157.5" y1="630.6" y2="630.6" stroke="#e3e3e3" stroke-width="1.5"/>
<line x1="990.1" x2="1157.5" y1="639.8" y2="639.8" stroke="#e3e3e3" stroke-width="1.5"/>
<line x1="990.1" x2="1157.5" y1="648.8" y2="648.8" stroke="#e3e3e3" stroke-width="1.5"/>
<line x1="990.1" x2="1157.5" y1="657.8" y2="657.8" stroke="#e3e3e3" stroke-width="1.5"/>
<line x1="990.1" x2="1157.5" y1="666.9" y2="666.9" stroke="#e3e3e3" stroke-width="1.5"/>
<line x1="1077.0" x2="1077.0" y1="593.1" y2="678.4" stroke="#dedede" stroke-width="1.8"/>
<g clip-path="url(#cp25)"><polygon points="991.1,678.4 991.1,675.3 998.0,595.1 1004.9,595.1 1011.8,595.1 1018.7,665.3 1025.6,611.1 1032.5,640.2 1039.4,665.3 1046.3,662.2 1053.2,662.2 1060.1,667.3 1067.0,665.7 1073.9,660.8 1080.8,594.7 1087.7,632.8 1094.6,621.5 1101.5,638.2 1108.4,631.6 1115.3,639.8 1122.2,641.6 1129.1,641.2 1136.0,641.2 1142.9,643.2 1149.8,639.6 1156.7,630.2 1156.7,678.4" fill="#7393cf"/>
<polyline points="991.1,680.4 991.1,675.3 998.0,595.1 1004.9,595.1 1011.8,595.1 1018.7,665.3 1025.6,611.1 1032.5,640.2 1039.4,665.3 1046.3,662.2 1053.2,662.2 1060.1,667.3 1067.0,665.7 1073.9,660.8 1080.8,594.7 1087.7,632.8 1094.6,621.5 1101.5,638.2 1108.4,631.6 1115.3,639.8 1122.2,641.6 1129.1,641.2 1136.0,641.2 1142.9,643.2 1149.8,639.6 1156.7,630.2" fill="none" stroke="#bfbfbf" stroke-width="2.2" stroke-linejoin="miter" stroke-miterlimit="3"/><line x1="992.0" x2="992.0" y1="676.3" y2="678.4" stroke="#bfbfbf" stroke-width="2"/></g>
<rect x="990.1" y="593.1" width="167.4" height="85.3" fill="none" stroke="#c0c0c0" stroke-width="2.5"/>
<text class="a" x="980.3" y="604.1" textLength="8.1" lengthAdjust="spacingAndGlyphs">90</text>
<text class="a" x="980.3" y="623.1" textLength="8.1" lengthAdjust="spacingAndGlyphs">70</text>
<text class="a" x="980.3" y="641.2" textLength="8.1" lengthAdjust="spacingAndGlyphs">50</text>
<text class="a" x="980.3" y="659.2" textLength="8.1" lengthAdjust="spacingAndGlyphs">30</text>
<text class="a" x="980.3" y="677.3" textLength="8.1" lengthAdjust="spacingAndGlyphs">10</text>
<text class="a" x="1004.9" y="687.1" text-anchor="middle">I</text>
<text class="a" x="1025.6" y="687.1" text-anchor="middle">II</text>
<text class="a" x="1046.3" y="687.1" text-anchor="middle">III</text>
<text class="a" x="1067.0" y="687.1" text-anchor="middle">IV</text>
<text class="a" x="1087.7" y="687.1" text-anchor="middle">I</text>
<text class="a" x="1108.4" y="687.1" text-anchor="middle">II</text>
<text class="a" x="1129.1" y="687.1" text-anchor="middle">III</text>
<text class="a" x="1149.8" y="687.1" text-anchor="middle">IV</text>
<text class="a" x="1027.9" y="698.6" textLength="16" lengthAdjust="spacingAndGlyphs">2021</text>
<text class="a" x="1110.0" y="698.6" textLength="16" lengthAdjust="spacingAndGlyphs">2022</text>
<text class="t" x="1015.5" y="579.0" textLength="116.9" lengthAdjust="spacingAndGlyphs">PCI LOGMONEX-EMU_INF</text>
</g>
</svg></body></html>
